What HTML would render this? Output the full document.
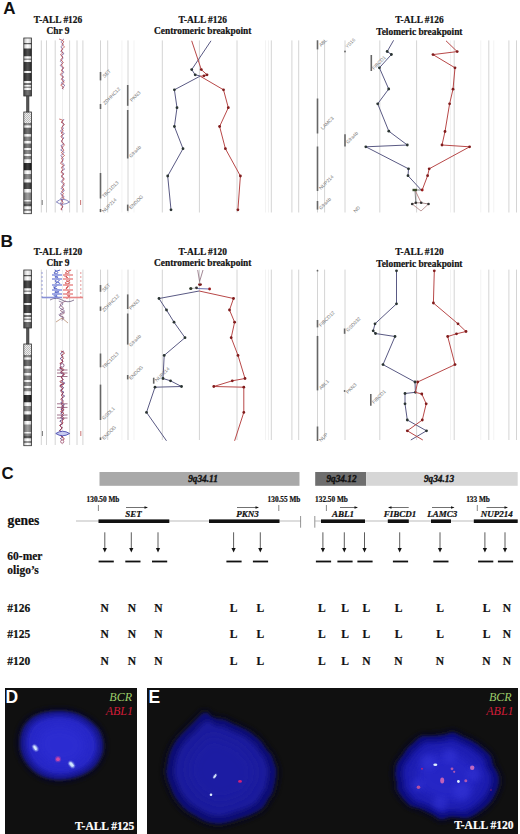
<!DOCTYPE html>
<html><head><meta charset="utf-8"><style>
html,body{margin:0;padding:0;background:#fff;}
body{width:520px;height:834px;overflow:hidden;}
svg{display:block;}
</style></head><body>
<svg width="520" height="834" viewBox="0 0 520 834">
<defs>
<pattern id="hatch" width="2" height="2" patternUnits="userSpaceOnUse"><rect width="2" height="2" fill="#eee"/><rect width="1" height="1" fill="#bbb"/><rect x="1" y="1" width="1" height="1" fill="#bbb"/></pattern>
<radialGradient id="nucD" cx="0.5" cy="0.5" r="0.5"><stop offset="0" stop-color="#2b2bcf"/><stop offset="0.75" stop-color="#2626c0"/><stop offset="0.9" stop-color="#1a1a8a"/><stop offset="1" stop-color="#10103a" stop-opacity="0"/></radialGradient>
<radialGradient id="nucE" cx="0.5" cy="0.5" r="0.5"><stop offset="0" stop-color="#2a2ac8"/><stop offset="0.75" stop-color="#2222b0"/><stop offset="0.9" stop-color="#181880"/><stop offset="1" stop-color="#10103a" stop-opacity="0"/></radialGradient>
<filter id="blur1" x="-20%" y="-20%" width="140%" height="140%"><feGaussianBlur stdDeviation="1.2"/></filter>
<filter id="blur15" x="-20%" y="-20%" width="140%" height="140%"><feGaussianBlur stdDeviation="1.8"/></filter>
<filter id="blur2" x="-20%" y="-20%" width="140%" height="140%"><feGaussianBlur stdDeviation="2.5"/></filter>
<filter id="blur3" x="-20%" y="-20%" width="140%" height="140%"><feGaussianBlur stdDeviation="3"/></filter>
<filter id="blur4" x="-30%" y="-30%" width="160%" height="160%"><feGaussianBlur stdDeviation="6"/></filter>
<linearGradient id="cyl" x1="0" x2="1" y1="0" y2="0"><stop offset="0" stop-color="#000" stop-opacity="0.25"/><stop offset="0.5" stop-color="#fff" stop-opacity="0.18"/><stop offset="1" stop-color="#000" stop-opacity="0.25"/></linearGradient>
<filter id="blur05"><feGaussianBlur stdDeviation="0.5"/></filter>
</defs>
<text x="3.3" y="14.2" font-family="Liberation Sans" font-weight="bold" font-size="17" fill="#111">A</text>
<text stroke="#111" stroke-width="0.2" x="58" y="23.3" font-family="Liberation Serif" font-weight="bold" font-size="9.4" text-anchor="middle" fill="#111">T-ALL #126</text>
<text stroke="#111" stroke-width="0.2" x="58" y="34.2" font-family="Liberation Serif" font-weight="bold" font-size="9.4" text-anchor="middle" fill="#111">Chr 9</text>
<text stroke="#111" stroke-width="0.2" x="202.7" y="23.1" font-family="Liberation Serif" font-weight="bold" font-size="9.4" text-anchor="middle" fill="#111">T-ALL #126</text>
<text stroke="#111" stroke-width="0.2" x="202.7" y="34.2" font-family="Liberation Serif" font-weight="bold" font-size="9.4" text-anchor="middle" fill="#111">Centromeric breakpoint</text>
<text stroke="#111" stroke-width="0.2" x="419.4" y="23.1" font-family="Liberation Serif" font-weight="bold" font-size="9.4" text-anchor="middle" fill="#111">T-ALL #126</text>
<text stroke="#111" stroke-width="0.2" x="419.4" y="34.6" font-family="Liberation Serif" font-weight="bold" font-size="9.4" text-anchor="middle" fill="#111">Telomeric breakpoint</text>
<line x1="41.3" y1="40.4" x2="41.3" y2="212.5" stroke="#d4d4d4" stroke-width="1"/>
<line x1="46.5" y1="40.4" x2="46.5" y2="212.5" stroke="#d4d4d4" stroke-width="1"/>
<line x1="55.2" y1="40.4" x2="55.2" y2="212.5" stroke="#d4d4d4" stroke-width="1"/>
<line x1="69.6" y1="40.4" x2="69.6" y2="212.5" stroke="#d4d4d4" stroke-width="1"/>
<line x1="77" y1="40.4" x2="77" y2="212.5" stroke="#d4d4d4" stroke-width="1"/>
<line x1="82.9" y1="40.4" x2="82.9" y2="212.5" stroke="#d4d4d4" stroke-width="1"/>
<line x1="100.5" y1="40.4" x2="100.5" y2="212.5" stroke="#d4d4d4" stroke-width="1"/>
<line x1="107.7" y1="40.4" x2="107.7" y2="212.5" stroke="#d4d4d4" stroke-width="1"/>
<line x1="128" y1="40.4" x2="128" y2="212.5" stroke="#d4d4d4" stroke-width="1"/>
<line x1="162.3" y1="40.4" x2="162.3" y2="212.5" stroke="#d4d4d4" stroke-width="1"/>
<line x1="199.4" y1="40.4" x2="199.4" y2="212.5" stroke="#d4d4d4" stroke-width="1"/>
<line x1="237" y1="40.4" x2="237" y2="212.5" stroke="#d4d4d4" stroke-width="1"/>
<line x1="271.3" y1="40.4" x2="271.3" y2="212.5" stroke="#d4d4d4" stroke-width="1"/>
<line x1="291.9" y1="40.4" x2="291.9" y2="212.5" stroke="#d4d4d4" stroke-width="1"/>
<line x1="298.7" y1="40.4" x2="298.7" y2="212.5" stroke="#d4d4d4" stroke-width="1"/>
<line x1="317.5" y1="40.4" x2="317.5" y2="212.5" stroke="#d4d4d4" stroke-width="1"/>
<line x1="324.6" y1="40.4" x2="324.6" y2="212.5" stroke="#d4d4d4" stroke-width="1"/>
<line x1="345" y1="40.4" x2="345" y2="212.5" stroke="#d4d4d4" stroke-width="1"/>
<line x1="379.8" y1="40.4" x2="379.8" y2="212.5" stroke="#d4d4d4" stroke-width="1"/>
<line x1="416.6" y1="40.4" x2="416.6" y2="212.5" stroke="#d4d4d4" stroke-width="1"/>
<line x1="454.2" y1="40.4" x2="454.2" y2="212.5" stroke="#d4d4d4" stroke-width="1"/>
<line x1="488.8" y1="40.4" x2="488.8" y2="212.5" stroke="#d4d4d4" stroke-width="1"/>
<line x1="508.9" y1="40.4" x2="508.9" y2="212.5" stroke="#d4d4d4" stroke-width="1"/>
<line x1="516.5" y1="40.4" x2="516.5" y2="212.5" stroke="#d4d4d4" stroke-width="1"/>
<line x1="121.9" y1="40.4" x2="121.9" y2="212.5" stroke="#f3f3f3" stroke-width="1"/>
<line x1="134" y1="40.4" x2="134" y2="212.5" stroke="#f3f3f3" stroke-width="1"/>
<line x1="265.5" y1="40.4" x2="265.5" y2="212.5" stroke="#f3f3f3" stroke-width="1"/>
<line x1="268.5" y1="40.4" x2="268.5" y2="212.5" stroke="#f3f3f3" stroke-width="1"/>
<line x1="450.5" y1="40.4" x2="450.5" y2="212.5" stroke="#f3f3f3" stroke-width="1"/>
<line x1="480.8" y1="40.4" x2="480.8" y2="212.5" stroke="#f3f3f3" stroke-width="1"/>
<line x1="493.8" y1="40.4" x2="493.8" y2="212.5" stroke="#f3f3f3" stroke-width="1"/>
<line x1="100.5" y1="72" x2="100.5" y2="80.4" stroke="#666" stroke-width="1.6"/>
<line x1="100.5" y1="104" x2="100.5" y2="109" stroke="#666" stroke-width="1.6"/>
<line x1="100.5" y1="173" x2="100.5" y2="198.5" stroke="#666" stroke-width="1.6"/>
<line x1="100.5" y1="209" x2="100.5" y2="212" stroke="#666" stroke-width="1.6"/>
<line x1="127.7" y1="85" x2="127.7" y2="105.8" stroke="#666" stroke-width="1.6"/>
<line x1="127.7" y1="110" x2="127.7" y2="158.5" stroke="#666" stroke-width="1.6"/>
<line x1="127.7" y1="204.6" x2="127.7" y2="210.8" stroke="#666" stroke-width="1.6"/>
<line x1="317.5" y1="40.3" x2="317.5" y2="49.4" stroke="#666" stroke-width="1.6"/>
<line x1="317.5" y1="98.5" x2="317.5" y2="133.5" stroke="#666" stroke-width="1.6"/>
<line x1="317.5" y1="146.5" x2="317.5" y2="191" stroke="#666" stroke-width="1.6"/>
<line x1="317.5" y1="201" x2="317.5" y2="209.6" stroke="#666" stroke-width="1.6"/>
<line x1="371.3" y1="55" x2="371.3" y2="71" stroke="#666" stroke-width="1.6"/>
<line x1="345" y1="134.2" x2="345" y2="146.5" stroke="#666" stroke-width="1.6"/>
<circle cx="345" cy="51.5" r="0.9" fill="#666"/>
<text x="104.5" y="78" font-family="Liberation Sans" font-size="4.8" fill="#7a7a7a" transform="rotate(-45 104.5 78)">SET</text>
<text x="105" y="105" font-family="Liberation Sans" font-size="4.8" fill="#7a7a7a" transform="rotate(-45 105 105)">ZDHHC12</text>
<text x="132" y="102" font-family="Liberation Sans" font-size="4.8" fill="#7a7a7a" transform="rotate(-45 132 102)">PKN3</text>
<text x="131" y="158" font-family="Liberation Sans" font-size="4.8" fill="#7a7a7a" transform="rotate(-45 131 158)">Gfra4b</text>
<text x="104" y="198" font-family="Liberation Sans" font-size="4.8" fill="#7a7a7a" transform="rotate(-45 104 198)">TBC1D13</text>
<text x="104" y="213" font-family="Liberation Sans" font-size="4.8" fill="#7a7a7a" transform="rotate(-45 104 213)">NUP214</text>
<text x="131" y="209.5" font-family="Liberation Sans" font-size="4.8" fill="#7a7a7a" transform="rotate(-45 131 209.5)">ENDOG</text>
<text x="321" y="47" font-family="Liberation Sans" font-size="4.8" fill="#7a7a7a" transform="rotate(-45 321 47)">ABL</text>
<text x="347.3" y="48.5" font-family="Liberation Sans" font-size="4.8" fill="#7a7a7a" transform="rotate(-45 347.3 48.5)">YS16</text>
<text x="374" y="70" font-family="Liberation Sans" font-size="4.8" fill="#7a7a7a" transform="rotate(-45 374 70)">FIBCD1</text>
<text x="322.8" y="130" font-family="Liberation Sans" font-size="4.8" fill="#7a7a7a" transform="rotate(-45 322.8 130)">LAMC3</text>
<text x="348" y="144" font-family="Liberation Sans" font-size="4.8" fill="#7a7a7a" transform="rotate(-45 348 144)">Gfra4b</text>
<text x="355.5" y="213" font-family="Liberation Sans" font-size="4.8" fill="#7a7a7a" transform="rotate(-45 355.5 213)">ND</text>
<text x="321" y="190" font-family="Liberation Sans" font-size="4.8" fill="#7a7a7a" transform="rotate(-45 321 190)">NUP214</text>
<text x="321" y="210" font-family="Liberation Sans" font-size="4.8" fill="#7a7a7a" transform="rotate(-45 321 210)">Gfra4b</text>
<rect x="23.8" y="38" width="7.800000000000001" height="5" fill="#f4f4f4"/>
<rect x="23.8" y="43" width="7.800000000000001" height="1.5" fill="#444"/>
<rect x="23.8" y="44.5" width="7.800000000000001" height="4.0" fill="#fff"/>
<rect x="23.8" y="48.5" width="7.800000000000001" height="8.0" fill="#2a2a2a"/>
<rect x="23.8" y="56.5" width="7.800000000000001" height="2.0" fill="#fff"/>
<rect x="23.8" y="58.5" width="7.800000000000001" height="1.5" fill="#888"/>
<rect x="23.8" y="60" width="7.800000000000001" height="2" fill="#fff"/>
<rect x="23.8" y="62" width="7.800000000000001" height="9" fill="#2a2a2a"/>
<rect x="23.8" y="71" width="7.800000000000001" height="2" fill="#fff"/>
<rect x="23.8" y="73" width="7.800000000000001" height="8" fill="#2a2a2a"/>
<rect x="23.8" y="81" width="7.800000000000001" height="2" fill="#fff"/>
<rect x="23.8" y="83" width="7.800000000000001" height="2" fill="#666"/>
<rect x="23.8" y="85" width="7.800000000000001" height="1.5" fill="#fff"/>
<rect x="23.8" y="86.5" width="7.800000000000001" height="1.5" fill="#888"/>
<rect x="23.8" y="88" width="7.800000000000001" height="2" fill="#fff"/>
<rect x="23.8" y="90" width="7.800000000000001" height="6" fill="#555"/>
<rect x="23.8" y="112" width="7.800000000000001" height="11" fill="url(#hatch)"/>
<rect x="23.8" y="123" width="7.800000000000001" height="2.5999999999999943" fill="#777"/>
<rect x="23.8" y="125.6" width="7.800000000000001" height="2.1000000000000085" fill="#fff"/>
<rect x="23.8" y="127.7" width="7.800000000000001" height="6.6000000000000085" fill="#555"/>
<rect x="23.8" y="134.3" width="7.800000000000001" height="2.299999999999983" fill="#fff"/>
<rect x="23.8" y="136.6" width="7.800000000000001" height="4.400000000000006" fill="#777"/>
<rect x="23.8" y="141" width="7.800000000000001" height="2.5" fill="#fff"/>
<rect x="23.8" y="143.5" width="7.800000000000001" height="4.5" fill="#666"/>
<rect x="23.8" y="148" width="7.800000000000001" height="2" fill="#fff"/>
<rect x="23.8" y="150" width="7.800000000000001" height="4" fill="#777"/>
<rect x="23.8" y="154" width="7.800000000000001" height="2" fill="#fff"/>
<rect x="23.8" y="156" width="7.800000000000001" height="3.5" fill="#777"/>
<rect x="23.8" y="159.5" width="7.800000000000001" height="3.5" fill="#fff"/>
<rect x="23.8" y="163" width="7.800000000000001" height="7.5" fill="#111"/>
<rect x="23.8" y="170.5" width="7.800000000000001" height="3.5" fill="#fff"/>
<rect x="23.8" y="174" width="7.800000000000001" height="5.5" fill="#777"/>
<rect x="23.8" y="179.5" width="7.800000000000001" height="3.0" fill="#fff"/>
<rect x="23.8" y="182.5" width="7.800000000000001" height="6.5" fill="#333"/>
<rect x="23.8" y="189" width="7.800000000000001" height="3.5" fill="#fff"/>
<rect x="23.8" y="192.5" width="7.800000000000001" height="7.5" fill="#888"/>
<rect x="23.8" y="200" width="7.800000000000001" height="1.5" fill="#fff"/>
<rect x="23.8" y="201.5" width="7.800000000000001" height="2.5" fill="#777"/>
<rect x="23.8" y="204" width="7.800000000000001" height="2.5" fill="#444"/>
<rect x="23.8" y="206.5" width="7.800000000000001" height="2.5" fill="#fff"/>
<rect x="23.8" y="209" width="7.800000000000001" height="2" fill="#888"/>
<rect x="23.8" y="211" width="7.800000000000001" height="2.6999999999999886" fill="#fff"/>
<rect x="23.8" y="38" width="7.800000000000001" height="58" fill="url(#cyl)"/>
<rect x="23.8" y="123" width="7.800000000000001" height="90.7" fill="url(#cyl)"/>
<rect x="23.8" y="38" width="7.800000000000001" height="58" fill="none" stroke="#333" stroke-width="0.8"/>
<rect x="23.8" y="112" width="7.800000000000001" height="101.7" fill="none" stroke="#333" stroke-width="0.8"/>
<rect x="26.4" y="96" width="2.6" height="16" fill="#555" stroke="#333" stroke-width="0.5"/>
<line x1="62.5" y1="40" x2="62.5" y2="212.5" stroke="#e8e8e8" stroke-width="0.8"/>
<path d="M63.89,39.00 Q59.47,42.19 62.15,43.20 Q64.83,44.21 62.30,45.40 Q59.77,46.60 61.77,48.14 Q63.78,49.68 61.54,50.46 Q59.29,51.24 62.40,52.42 Q65.52,53.60 62.91,54.36 Q60.30,55.11 62.22,56.58 Q64.13,58.05 61.63,59.75 Q59.12,61.44 61.36,62.22 Q63.61,63.00 61.31,64.29 Q59.02,65.59 61.56,66.72 Q64.10,67.85 62.74,69.02 Q61.38,70.19 63.03,71.16 Q64.68,72.14 62.77,73.38 Q60.85,74.63 62.48,75.61 Q64.11,76.59 62.41,77.80 Q60.71,79.01 63.21,79.78 Q65.72,80.55 62.75,81.86 Q59.79,83.16 62.96,84.10 Q66.12,85.04 63.63,86.65 Q61.15,88.26 63.28,89.34" fill="none" stroke="#6a4a90" stroke-width="0.7"/>
<path d="M59.03,39.00 Q65.70,41.34 63.18,42.76 Q60.67,44.18 63.25,45.52 Q65.83,46.86 62.99,48.46 Q60.15,50.05 61.89,51.39 Q63.63,52.73 61.51,53.72 Q59.39,54.72 61.69,55.88 Q63.99,57.04 61.81,58.34 Q59.63,59.64 62.07,61.07 Q64.51,62.49 62.33,63.68 Q60.14,64.87 62.52,66.40 Q64.89,67.93 62.54,69.07 Q60.19,70.21 61.92,70.99 Q63.65,71.77 61.28,73.22 Q58.90,74.68 61.73,76.02 Q64.56,77.36 62.36,78.29 Q60.15,79.21 62.85,80.94 Q65.54,82.67 62.38,83.96 Q59.22,85.25 62.05,86.23 Q64.88,87.21 62.42,88.92" fill="none" stroke="#b83838" stroke-width="0.7"/>
<path d="M64.16,119.00 Q60.50,121.59 62.83,122.94 Q65.17,124.30 63.30,125.11 Q61.43,125.93 62.82,127.51 Q64.21,129.10 61.54,130.09 Q58.87,131.07 62.29,132.29 Q65.71,133.51 62.76,134.74 Q59.80,135.96 62.49,136.86 Q65.19,137.77 62.65,139.38 Q60.10,141.00 62.69,142.49 Q65.29,143.98 62.39,144.80 Q59.49,145.61 61.91,146.95 Q64.32,148.29 61.77,149.08 Q59.21,149.86 62.31,151.08 Q65.41,152.30 62.51,153.93 Q59.60,155.56 62.09,157.23 Q64.57,158.90 62.44,160.45 Q60.30,162.00 63.06,163.69 Q65.83,165.37 63.47,166.22 Q61.11,167.07 63.58,168.04 Q66.05,169.00 62.94,170.19 Q59.83,171.38 62.34,172.43 Q64.86,173.48 62.70,174.61 Q60.55,175.75 62.80,177.08 Q65.06,178.42 62.37,180.07 Q59.69,181.73 62.73,183.41 Q65.77,185.09 62.74,186.83 Q59.71,188.57 62.75,189.48 Q65.78,190.39 62.44,192.11 Q59.11,193.82 62.25,195.14 Q65.40,196.46 62.35,197.42 Q59.30,198.38 61.79,199.71 Q64.28,201.03 61.76,201.84 Q59.24,202.66 61.50,204.40 Q63.77,206.14 62.08,207.69 Q60.39,209.24 62.35,210.14" fill="none" stroke="#6a4a90" stroke-width="0.7"/>
<path d="M59.19,119.00 Q65.14,120.59 62.36,121.38 Q59.59,122.18 62.71,123.26 Q65.83,124.34 62.99,126.07 Q60.15,127.80 62.25,129.55 Q64.35,131.30 62.12,132.13 Q59.90,132.95 61.98,133.73 Q64.05,134.52 61.96,135.67 Q59.87,136.83 61.76,137.74 Q63.65,138.64 62.15,140.26 Q60.64,141.88 63.26,143.59 Q65.87,145.30 63.07,146.42 Q60.26,147.55 62.74,148.82 Q65.21,150.09 62.61,151.44 Q60.01,152.78 63.00,154.15 Q65.99,155.52 63.16,156.78 Q60.34,158.04 62.25,159.51 Q64.16,160.98 61.54,162.03 Q58.92,163.08 61.94,164.35 Q64.97,165.62 62.67,166.38 Q60.38,167.15 61.99,168.48 Q63.59,169.81 61.70,171.17 Q59.82,172.54 62.49,173.35 Q65.17,174.16 62.43,175.37 Q59.69,176.59 62.54,177.69 Q65.38,178.79 63.39,180.28 Q61.40,181.77 63.35,182.58 Q65.30,183.39 63.05,185.11 Q60.81,186.82 62.94,188.03 Q65.08,189.23 62.80,190.30 Q60.51,191.37 62.51,192.43 Q64.50,193.50 62.59,194.84 Q60.68,196.19 63.11,197.32 Q65.55,198.44 62.76,199.22 Q59.98,200.00 62.16,201.48 Q64.35,202.97 61.86,203.94 Q59.37,204.91 61.70,205.90 Q64.03,206.89 61.84,208.07 Q59.65,209.26 62.01,210.11" fill="none" stroke="#b83838" stroke-width="0.7"/>
<path d="M56.3,202 Q62.5,196.5 69.6,202 Q62.5,206.5 56.3,202" fill="none" stroke="#6a6ab0" stroke-width="0.8"/>
<line x1="42.2" y1="200" x2="42.2" y2="205" stroke="#777" stroke-width="1"/>
<line x1="80.6" y1="200" x2="80.6" y2="205" stroke="#c77" stroke-width="1"/>
<polyline points="211,40.8 191.7,69.6 195.2,74.8 200.4,76 174.4,89.8 177,107.7 174.4,126.5 183,148.7 167.7,176 171,209.8" fill="none" stroke="#5a5a84" stroke-width="1"/>
<circle cx="191.7" cy="69.6" r="1.4" fill="#2a3432"/>
<circle cx="195.2" cy="74.8" r="1.4" fill="#2a3432"/>
<circle cx="174.4" cy="89.8" r="1.4" fill="#2a3432"/>
<circle cx="177" cy="107.7" r="1.4" fill="#2a3432"/>
<circle cx="174.4" cy="126.5" r="1.4" fill="#2a3432"/>
<circle cx="183" cy="148.7" r="1.4" fill="#2a3432"/>
<circle cx="167.7" cy="176" r="1.4" fill="#2a3432"/>
<circle cx="171" cy="209.8" r="1.4" fill="#2a3432"/>
<polyline points="191.7,40.8 201.3,69.6 207,74.8 204,75.8 200.4,76.3 223.5,89.8 228.3,107.7 219.6,126.5 225.4,148.7 240.4,176 237.9,209.8" fill="none" stroke="#b84848" stroke-width="1"/>
<circle cx="201.3" cy="69.6" r="1.4" fill="#801c1c"/>
<circle cx="207" cy="74.8" r="1.4" fill="#801c1c"/>
<circle cx="204" cy="75.8" r="1.4" fill="#801c1c"/>
<circle cx="223.5" cy="89.8" r="1.4" fill="#801c1c"/>
<circle cx="228.3" cy="107.7" r="1.4" fill="#801c1c"/>
<circle cx="219.6" cy="126.5" r="1.4" fill="#801c1c"/>
<circle cx="225.4" cy="148.7" r="1.4" fill="#801c1c"/>
<circle cx="240.4" cy="176" r="1.4" fill="#801c1c"/>
<circle cx="237.9" cy="209.8" r="1.4" fill="#801c1c"/>
<polyline points="393.6,40.3 387.2,51.5 391.4,54.5 379.4,67.8 388.7,89 377.7,103.8 388.8,131.2 407.3,145 365.8,146.8 408.5,168.8 408,175.7 421.2,190" fill="none" stroke="#5a5a84" stroke-width="1"/>
<circle cx="387.2" cy="51.5" r="1.4" fill="#2a3432"/>
<circle cx="391.4" cy="54.5" r="1.4" fill="#2a3432"/>
<circle cx="379.4" cy="67.8" r="1.4" fill="#2a3432"/>
<circle cx="388.7" cy="89" r="1.4" fill="#2a3432"/>
<circle cx="377.7" cy="103.8" r="1.4" fill="#2a3432"/>
<circle cx="388.8" cy="131.2" r="1.4" fill="#2a3432"/>
<circle cx="407.3" cy="145" r="1.4" fill="#2a3432"/>
<circle cx="365.8" cy="146.8" r="1.4" fill="#2a3432"/>
<circle cx="408.5" cy="168.8" r="1.4" fill="#2a3432"/>
<circle cx="408" cy="175.7" r="1.4" fill="#2a3432"/>
<polyline points="446,40.8 457.2,51.6 433,54.6 455,67.8 453,89.2 449.6,103.8 445,131.5 442,145 469.6,146.8 429.2,168.8 427.6,175.7 422.2,190" fill="none" stroke="#b84848" stroke-width="1"/>
<circle cx="457.2" cy="51.6" r="1.4" fill="#801c1c"/>
<circle cx="433" cy="54.6" r="1.4" fill="#801c1c"/>
<circle cx="455" cy="67.8" r="1.4" fill="#801c1c"/>
<circle cx="453" cy="89.2" r="1.4" fill="#801c1c"/>
<circle cx="449.6" cy="103.8" r="1.4" fill="#801c1c"/>
<circle cx="445" cy="131.5" r="1.4" fill="#801c1c"/>
<circle cx="442" cy="145" r="1.4" fill="#801c1c"/>
<circle cx="469.6" cy="146.8" r="1.4" fill="#801c1c"/>
<circle cx="429.2" cy="168.8" r="1.4" fill="#801c1c"/>
<circle cx="427.6" cy="175.7" r="1.4" fill="#801c1c"/>
<polyline points="412.2,204 421,211 428.5,204" fill="none" stroke="#b08080" stroke-width="0.8"/>
<polyline points="415,190 415.8,202.8" fill="none" stroke="#777" stroke-width="0.9"/>
<polyline points="415,190 421.2,202.8" fill="none" stroke="#b07070" stroke-width="0.8"/>
<polyline points="412.2,204 415.8,202.8 421.2,202.8 428.5,204" fill="none" stroke="#907070" stroke-width="0.8"/>
<line x1="413.5" y1="190" x2="422" y2="190" stroke="#555" stroke-width="0.8"/>
<rect x="412.5" y="188.8" width="4.5" height="2.4" fill="#3a4a2a"/>
<circle cx="412.2" cy="204" r="1.3" fill="#333"/>
<circle cx="415.8" cy="202.8" r="1.3" fill="#333"/>
<circle cx="421.2" cy="202.8" r="1.3" fill="#333"/>
<circle cx="428.5" cy="204" r="1.3" fill="#333"/>
<circle cx="422.2" cy="190" r="1.4" fill="#9a1a1a"/>
<text x="0.5" y="246.8" font-family="Liberation Sans" font-weight="bold" font-size="17.3" fill="#111">B</text>
<text stroke="#111" stroke-width="0.2" x="58" y="255.3" font-family="Liberation Serif" font-weight="bold" font-size="9.4" text-anchor="middle" fill="#111">T-ALL #120</text>
<text stroke="#111" stroke-width="0.2" x="58" y="266.2" font-family="Liberation Serif" font-weight="bold" font-size="9.4" text-anchor="middle" fill="#111">Chr 9</text>
<text stroke="#111" stroke-width="0.2" x="202.7" y="255.1" font-family="Liberation Serif" font-weight="bold" font-size="9.4" text-anchor="middle" fill="#111">T-ALL #120</text>
<text stroke="#111" stroke-width="0.2" x="202.7" y="266.2" font-family="Liberation Serif" font-weight="bold" font-size="9.4" text-anchor="middle" fill="#111">Centromeric breakpoint</text>
<text stroke="#111" stroke-width="0.2" x="419.4" y="255.1" font-family="Liberation Serif" font-weight="bold" font-size="9.4" text-anchor="middle" fill="#111">T-ALL #120</text>
<text stroke="#111" stroke-width="0.2" x="419.4" y="266.6" font-family="Liberation Serif" font-weight="bold" font-size="9.4" text-anchor="middle" fill="#111">Telomeric breakpoint</text>
<line x1="41.3" y1="269.6" x2="41.3" y2="445" stroke="#d4d4d4" stroke-width="1"/>
<line x1="46.5" y1="269.6" x2="46.5" y2="445" stroke="#d4d4d4" stroke-width="1"/>
<line x1="55.2" y1="269.6" x2="55.2" y2="445" stroke="#d4d4d4" stroke-width="1"/>
<line x1="69.6" y1="269.6" x2="69.6" y2="445" stroke="#d4d4d4" stroke-width="1"/>
<line x1="77" y1="269.6" x2="77" y2="445" stroke="#d4d4d4" stroke-width="1"/>
<line x1="82.9" y1="269.6" x2="82.9" y2="445" stroke="#d4d4d4" stroke-width="1"/>
<line x1="100.5" y1="269.6" x2="100.5" y2="440" stroke="#d4d4d4" stroke-width="1"/>
<line x1="107.7" y1="269.6" x2="107.7" y2="440" stroke="#d4d4d4" stroke-width="1"/>
<line x1="128" y1="269.6" x2="128" y2="440" stroke="#d4d4d4" stroke-width="1"/>
<line x1="162.3" y1="269.6" x2="162.3" y2="440" stroke="#d4d4d4" stroke-width="1"/>
<line x1="199.4" y1="269.6" x2="199.4" y2="440" stroke="#d4d4d4" stroke-width="1"/>
<line x1="237" y1="269.6" x2="237" y2="440" stroke="#d4d4d4" stroke-width="1"/>
<line x1="271.3" y1="269.6" x2="271.3" y2="440" stroke="#d4d4d4" stroke-width="1"/>
<line x1="291.9" y1="269.6" x2="291.9" y2="440" stroke="#d4d4d4" stroke-width="1"/>
<line x1="298.7" y1="269.6" x2="298.7" y2="440" stroke="#d4d4d4" stroke-width="1"/>
<line x1="317.5" y1="269.6" x2="317.5" y2="440" stroke="#d4d4d4" stroke-width="1"/>
<line x1="324.6" y1="269.6" x2="324.6" y2="440" stroke="#d4d4d4" stroke-width="1"/>
<line x1="345" y1="269.6" x2="345" y2="440" stroke="#d4d4d4" stroke-width="1"/>
<line x1="379.8" y1="269.6" x2="379.8" y2="440" stroke="#d4d4d4" stroke-width="1"/>
<line x1="416.6" y1="269.6" x2="416.6" y2="440" stroke="#d4d4d4" stroke-width="1"/>
<line x1="454.2" y1="269.6" x2="454.2" y2="440" stroke="#d4d4d4" stroke-width="1"/>
<line x1="488.8" y1="269.6" x2="488.8" y2="440" stroke="#d4d4d4" stroke-width="1"/>
<line x1="508.9" y1="269.6" x2="508.9" y2="440" stroke="#d4d4d4" stroke-width="1"/>
<line x1="516.5" y1="269.6" x2="516.5" y2="440" stroke="#d4d4d4" stroke-width="1"/>
<line x1="121.9" y1="269.6" x2="121.9" y2="440" stroke="#f3f3f3" stroke-width="1"/>
<line x1="134" y1="269.6" x2="134" y2="440" stroke="#f3f3f3" stroke-width="1"/>
<line x1="265.5" y1="269.6" x2="265.5" y2="440" stroke="#f3f3f3" stroke-width="1"/>
<line x1="268.5" y1="269.6" x2="268.5" y2="440" stroke="#f3f3f3" stroke-width="1"/>
<line x1="450.5" y1="269.6" x2="450.5" y2="440" stroke="#f3f3f3" stroke-width="1"/>
<line x1="480.8" y1="269.6" x2="480.8" y2="440" stroke="#f3f3f3" stroke-width="1"/>
<line x1="493.8" y1="269.6" x2="493.8" y2="440" stroke="#f3f3f3" stroke-width="1"/>
<line x1="100.5" y1="285" x2="100.5" y2="291.8" stroke="#666" stroke-width="1.6"/>
<line x1="100.5" y1="306.5" x2="100.5" y2="310.9" stroke="#666" stroke-width="1.6"/>
<line x1="100.5" y1="353.5" x2="100.5" y2="367.3" stroke="#666" stroke-width="1.6"/>
<line x1="100.5" y1="384.6" x2="100.5" y2="420" stroke="#666" stroke-width="1.6"/>
<line x1="100.5" y1="437.4" x2="100.5" y2="440" stroke="#666" stroke-width="1.6"/>
<line x1="127.7" y1="294.4" x2="127.7" y2="309" stroke="#666" stroke-width="1.6"/>
<line x1="127.7" y1="313.5" x2="127.7" y2="344.6" stroke="#666" stroke-width="1.6"/>
<line x1="127.7" y1="375" x2="127.7" y2="379.4" stroke="#666" stroke-width="1.6"/>
<line x1="153.7" y1="377.7" x2="153.7" y2="383.7" stroke="#666" stroke-width="1.6"/>
<line x1="317.5" y1="320" x2="317.5" y2="327.4" stroke="#666" stroke-width="1.6"/>
<line x1="317.5" y1="335.9" x2="317.5" y2="390.4" stroke="#666" stroke-width="1.6"/>
<line x1="317.5" y1="426.5" x2="317.5" y2="441" stroke="#666" stroke-width="1.6"/>
<line x1="344.6" y1="328.5" x2="344.6" y2="333.8" stroke="#666" stroke-width="1.6"/>
<line x1="370.8" y1="394" x2="370.8" y2="405.8" stroke="#666" stroke-width="1.6"/>
<circle cx="317.5" cy="270.7" r="0.9" fill="#666"/>
<circle cx="344.6" cy="391" r="0.9" fill="#666"/>
<text x="104" y="292" font-family="Liberation Sans" font-size="4.8" fill="#7a7a7a" transform="rotate(-45 104 292)">SET</text>
<text x="104" y="312" font-family="Liberation Sans" font-size="4.8" fill="#7a7a7a" transform="rotate(-45 104 312)">ZDHHC12</text>
<text x="131" y="310" font-family="Liberation Sans" font-size="4.8" fill="#7a7a7a" transform="rotate(-45 131 310)">PKN3</text>
<text x="131" y="347" font-family="Liberation Sans" font-size="4.8" fill="#7a7a7a" transform="rotate(-45 131 347)">Gfra4b</text>
<text x="104" y="369" font-family="Liberation Sans" font-size="4.8" fill="#7a7a7a" transform="rotate(-45 104 369)">TBC1D13</text>
<text x="131" y="380" font-family="Liberation Sans" font-size="4.8" fill="#7a7a7a" transform="rotate(-45 131 380)">ENDOG</text>
<text x="157" y="382" font-family="Liberation Sans" font-size="4.8" fill="#7a7a7a" transform="rotate(-45 157 382)">NUP214</text>
<text x="104" y="420" font-family="Liberation Sans" font-size="4.8" fill="#7a7a7a" transform="rotate(-45 104 420)">GSDL1</text>
<text x="104" y="440" font-family="Liberation Sans" font-size="4.8" fill="#7a7a7a" transform="rotate(-45 104 440)">ENDOG</text>
<text x="321" y="327" font-family="Liberation Sans" font-size="4.8" fill="#7a7a7a" transform="rotate(-45 321 327)">FIBCD12</text>
<text x="348" y="332" font-family="Liberation Sans" font-size="4.8" fill="#7a7a7a" transform="rotate(-45 348 332)">GSD032</text>
<text x="321" y="390" font-family="Liberation Sans" font-size="4.8" fill="#7a7a7a" transform="rotate(-45 321 390)">ABL1</text>
<text x="348" y="394" font-family="Liberation Sans" font-size="4.8" fill="#7a7a7a" transform="rotate(-45 348 394)">PKN3</text>
<text x="374" y="404" font-family="Liberation Sans" font-size="4.8" fill="#7a7a7a" transform="rotate(-45 374 404)">FIBCD1</text>
<text x="321" y="442" font-family="Liberation Sans" font-size="4.8" fill="#7a7a7a" transform="rotate(-45 321 442)">NUP</text>
<rect x="23.8" y="270" width="7.800000000000001" height="5" fill="#f4f4f4"/>
<rect x="23.8" y="275" width="7.800000000000001" height="1.5" fill="#444"/>
<rect x="23.8" y="276.5" width="7.800000000000001" height="4.0" fill="#fff"/>
<rect x="23.8" y="280.5" width="7.800000000000001" height="8.0" fill="#2a2a2a"/>
<rect x="23.8" y="288.5" width="7.800000000000001" height="2.0" fill="#fff"/>
<rect x="23.8" y="290.5" width="7.800000000000001" height="1.5" fill="#888"/>
<rect x="23.8" y="292" width="7.800000000000001" height="2" fill="#fff"/>
<rect x="23.8" y="294" width="7.800000000000001" height="9" fill="#2a2a2a"/>
<rect x="23.8" y="303" width="7.800000000000001" height="2" fill="#fff"/>
<rect x="23.8" y="305" width="7.800000000000001" height="8" fill="#2a2a2a"/>
<rect x="23.8" y="313" width="7.800000000000001" height="2" fill="#fff"/>
<rect x="23.8" y="315" width="7.800000000000001" height="2" fill="#666"/>
<rect x="23.8" y="317" width="7.800000000000001" height="1.5" fill="#fff"/>
<rect x="23.8" y="318.5" width="7.800000000000001" height="1.5" fill="#888"/>
<rect x="23.8" y="320" width="7.800000000000001" height="2" fill="#fff"/>
<rect x="23.8" y="322" width="7.800000000000001" height="6" fill="#555"/>
<rect x="23.8" y="344" width="7.800000000000001" height="11" fill="url(#hatch)"/>
<rect x="23.8" y="355" width="7.800000000000001" height="2.5999999999999943" fill="#777"/>
<rect x="23.8" y="357.6" width="7.800000000000001" height="2.1000000000000085" fill="#fff"/>
<rect x="23.8" y="359.7" width="7.800000000000001" height="6.6000000000000085" fill="#555"/>
<rect x="23.8" y="366.3" width="7.800000000000001" height="2.299999999999983" fill="#fff"/>
<rect x="23.8" y="368.6" width="7.800000000000001" height="4.400000000000006" fill="#777"/>
<rect x="23.8" y="373" width="7.800000000000001" height="2.5" fill="#fff"/>
<rect x="23.8" y="375.5" width="7.800000000000001" height="4.5" fill="#666"/>
<rect x="23.8" y="380" width="7.800000000000001" height="2" fill="#fff"/>
<rect x="23.8" y="382" width="7.800000000000001" height="4" fill="#777"/>
<rect x="23.8" y="386" width="7.800000000000001" height="2" fill="#fff"/>
<rect x="23.8" y="388" width="7.800000000000001" height="3.5" fill="#777"/>
<rect x="23.8" y="391.5" width="7.800000000000001" height="3.5" fill="#fff"/>
<rect x="23.8" y="395" width="7.800000000000001" height="7.5" fill="#111"/>
<rect x="23.8" y="402.5" width="7.800000000000001" height="3.5" fill="#fff"/>
<rect x="23.8" y="406" width="7.800000000000001" height="5.5" fill="#777"/>
<rect x="23.8" y="411.5" width="7.800000000000001" height="3.0" fill="#fff"/>
<rect x="23.8" y="414.5" width="7.800000000000001" height="6.5" fill="#333"/>
<rect x="23.8" y="421" width="7.800000000000001" height="3.5" fill="#fff"/>
<rect x="23.8" y="424.5" width="7.800000000000001" height="7.5" fill="#888"/>
<rect x="23.8" y="432" width="7.800000000000001" height="1.5" fill="#fff"/>
<rect x="23.8" y="433.5" width="7.800000000000001" height="2.5" fill="#777"/>
<rect x="23.8" y="436" width="7.800000000000001" height="2.5" fill="#444"/>
<rect x="23.8" y="438.5" width="7.800000000000001" height="2.5" fill="#fff"/>
<rect x="23.8" y="441" width="7.800000000000001" height="2" fill="#888"/>
<rect x="23.8" y="443" width="7.800000000000001" height="2.6999999999999886" fill="#fff"/>
<rect x="23.8" y="270" width="7.800000000000001" height="58" fill="url(#cyl)"/>
<rect x="23.8" y="355" width="7.800000000000001" height="90.7" fill="url(#cyl)"/>
<rect x="23.8" y="270" width="7.800000000000001" height="58" fill="none" stroke="#333" stroke-width="0.8"/>
<rect x="23.8" y="344" width="7.800000000000001" height="101.7" fill="none" stroke="#333" stroke-width="0.8"/>
<rect x="26.4" y="328" width="2.6" height="16" fill="#555" stroke="#333" stroke-width="0.5"/>
<line x1="62.5" y1="270" x2="62.5" y2="445" stroke="#e8e8e8" stroke-width="0.8"/>
<path d="M60.08,270.00 Q50.94,272.62 55.63,273.84 Q60.31,275.05 57.18,276.39 Q54.04,277.73 57.43,278.99 Q60.83,280.25 57.63,281.79 Q54.42,283.34 56.49,284.39 Q58.56,285.44 55.23,287.00 Q51.91,288.56 57.11,289.35 Q62.31,290.15 57.19,291.86 Q52.07,293.57 55.46,294.94 Q58.84,296.31 55.72,297.07 Q52.60,297.84 55.79,298.65" fill="none" stroke="#4050c0" stroke-width="0.9"/>
<path d="M54.69,270.00 Q60.03,272.43 56.33,274.02 Q52.64,275.61 56.46,277.00 Q60.28,278.39 56.59,279.81 Q52.90,281.22 57.63,282.25 Q62.37,283.27 56.83,285.02 Q51.29,286.77 55.40,288.22 Q59.50,289.68 56.56,290.66 Q53.61,291.64 57.50,292.46 Q61.40,293.28 56.33,294.43 Q51.26,295.58 56.73,296.72" fill="none" stroke="#5060c8" stroke-width="0.9"/>
<path d="M71.17,270.00 Q63.02,272.81 66.12,273.71 Q69.23,274.60 66.95,275.72 Q64.67,276.85 68.37,278.41 Q72.08,279.97 67.78,281.32 Q63.48,282.67 66.63,284.08 Q69.79,285.50 67.46,286.69 Q65.14,287.88 67.28,289.53 Q69.43,291.19 67.47,292.76 Q65.51,294.33 68.05,295.76 Q70.60,297.20 66.44,298.35" fill="none" stroke="#d04040" stroke-width="0.9"/>
<path d="M65.56,270.00 Q71.32,273.33 66.50,274.17 Q61.67,275.01 65.66,276.71 Q69.65,278.41 67.45,279.58 Q65.25,280.75 68.52,281.81 Q71.79,282.88 67.34,283.79 Q62.89,284.70 66.40,285.51 Q69.90,286.31 67.02,287.87 Q64.14,289.44 67.91,290.61 Q71.68,291.78 67.94,293.00 Q64.20,294.23 68.22,295.01 Q72.23,295.79 66.98,297.51" fill="none" stroke="#d85050" stroke-width="0.9"/>
<line x1="52" y1="275" x2="62" y2="275" stroke="#9aa4e4" stroke-width="1.8"/>
<line x1="63" y1="275" x2="73" y2="275" stroke="#eca0a0" stroke-width="1.8"/>
<line x1="52" y1="279" x2="62" y2="279" stroke="#9aa4e4" stroke-width="1.8"/>
<line x1="63" y1="279" x2="73" y2="279" stroke="#eca0a0" stroke-width="1.8"/>
<line x1="52" y1="285" x2="62" y2="285" stroke="#9aa4e4" stroke-width="1.8"/>
<line x1="63" y1="285" x2="73" y2="285" stroke="#eca0a0" stroke-width="1.8"/>
<line x1="52" y1="290" x2="62" y2="290" stroke="#9aa4e4" stroke-width="1.8"/>
<line x1="63" y1="290" x2="73" y2="290" stroke="#eca0a0" stroke-width="1.8"/>
<line x1="52" y1="294" x2="62" y2="294" stroke="#9aa4e4" stroke-width="1.8"/>
<line x1="63" y1="294" x2="73" y2="294" stroke="#eca0a0" stroke-width="1.8"/>
<path d="M50,300 Q56,296.5 62,300 T74,300" fill="none" stroke="#706080" stroke-width="0.8"/>
<line x1="42" y1="297.5" x2="62" y2="297.5" stroke="#8890d8" stroke-width="1.6"/>
<line x1="63" y1="297.5" x2="83" y2="297.5" stroke="#e88888" stroke-width="1.6"/>
<line x1="42" y1="272" x2="42" y2="298" stroke="#8088d0" stroke-width="0.8" stroke-dasharray="2,2"/>
<line x1="80.8" y1="272" x2="80.8" y2="298" stroke="#e08080" stroke-width="0.8" stroke-dasharray="2,2"/>
<path d="M65.73,301.00 Q57.31,304.44 61.44,306.36 Q65.57,308.28 62.04,309.46 Q58.52,310.64 62.66,311.81 Q66.80,312.98 62.23,314.03 Q57.65,315.09 61.73,316.25 Q65.81,317.40 61.39,318.82" fill="none" stroke="#8a5070" stroke-width="0.7"/>
<path d="M58.82,301.00 Q65.48,303.46 61.25,305.41 Q57.03,307.35 62.02,309.22 Q67.01,311.09 61.86,312.88 Q56.71,314.68 61.22,316.53 Q65.73,318.38 61.74,320.30" fill="none" stroke="#6a5080" stroke-width="0.7"/>
<polyline points="56,322 62,318 68,323" fill="none" stroke="#b08060" stroke-width="0.7"/>
<path d="M63.72,351.00 Q59.04,353.61 61.63,355.14 Q64.21,356.66 61.51,357.56 Q58.80,358.47 61.55,359.74 Q64.31,361.00 62.06,362.29 Q59.81,363.58 61.78,364.96 Q63.76,366.33 61.03,367.21 Q58.30,368.09 61.24,369.08 Q64.18,370.08 61.64,371.48 Q59.11,372.88 62.08,373.69 Q65.05,374.50 62.78,375.77 Q60.51,377.04 62.14,378.30 Q63.77,379.57 62.26,380.54 Q60.75,381.52 63.54,382.38 Q66.33,383.24 62.18,384.28 Q58.03,385.32 61.63,386.39 Q65.22,387.46 62.08,388.92 Q58.94,390.38 62.05,391.15 Q65.17,391.93 62.81,393.17 Q60.46,394.42 63.24,395.18 Q66.02,395.94 63.22,397.08 Q60.42,398.21 62.24,399.30 Q64.05,400.38 61.78,401.77 Q59.50,403.17 62.68,403.93 Q65.85,404.70 63.01,405.46 Q60.16,406.21 62.89,406.91 Q65.62,407.61 62.52,408.39 Q59.42,409.17 62.13,409.93 Q64.84,410.68 62.12,411.98 Q59.40,413.27 62.13,414.35 Q64.85,415.44 62.03,416.51 Q59.21,417.57 62.02,418.33 Q64.82,419.09 61.61,419.98 Q58.40,420.87 61.00,422.39 Q63.60,423.91 61.24,424.71 Q58.89,425.52 61.17,426.71 Q63.46,427.90 60.81,429.21 Q58.17,430.52 61.31,431.57 Q64.44,432.63 61.31,433.81 Q58.18,435.00 61.24,435.91 Q64.31,436.83 61.71,437.67 Q59.11,438.52 61.64,439.61" fill="none" stroke="#5a3a80" stroke-width="0.9"/>
<path d="M60.90,351.00 Q66.35,352.91 63.25,354.11 Q60.15,355.32 62.31,356.83 Q64.47,358.35 62.68,359.25 Q60.89,360.16 62.45,360.96 Q64.00,361.77 61.19,362.65 Q58.38,363.53 61.26,364.45 Q64.15,365.36 61.20,366.58 Q58.25,367.80 61.97,368.73 Q65.68,369.67 62.50,370.68 Q59.32,371.68 62.77,372.90 Q66.23,374.11 62.85,375.46 Q59.48,376.82 61.99,378.25 Q64.50,379.68 61.31,380.70 Q58.12,381.73 61.92,382.89 Q65.72,384.06 61.99,385.02 Q58.25,385.97 61.20,387.20 Q64.14,388.43 61.87,389.94 Q59.59,391.46 61.89,392.44 Q64.19,393.42 62.29,394.19 Q60.40,394.95 62.11,396.25 Q63.82,397.55 61.74,398.46 Q59.66,399.37 62.10,400.53 Q64.54,401.70 62.39,403.08 Q60.23,404.46 62.45,405.47 Q64.68,406.47 62.50,407.26 Q60.33,408.06 62.95,408.86 Q65.58,409.67 62.29,410.48 Q59.00,411.28 62.17,412.16 Q65.34,413.03 62.64,414.30 Q59.94,415.56 62.65,417.08 Q65.37,418.59 63.12,419.77 Q60.86,420.95 62.53,421.99 Q64.20,423.03 61.20,424.13 Q58.20,425.22 60.89,426.68 Q63.59,428.13 60.89,429.42 Q58.20,430.70 60.94,431.87 Q63.69,433.03 61.71,434.48 Q59.72,435.94 62.87,437.50 Q66.02,439.06 62.11,440.48" fill="none" stroke="#a03040" stroke-width="0.9"/>
<line x1="57" y1="370" x2="67.5" y2="370" stroke="#8a5070" stroke-width="0.8"/>
<line x1="57" y1="373" x2="67.5" y2="373" stroke="#8a5070" stroke-width="0.8"/>
<line x1="57" y1="376.5" x2="67.5" y2="376.5" stroke="#8a5070" stroke-width="0.8"/>
<line x1="57" y1="403.8" x2="67.5" y2="403.8" stroke="#8a5070" stroke-width="0.8"/>
<line x1="57" y1="407.4" x2="67.5" y2="407.4" stroke="#8a5070" stroke-width="0.8"/>
<line x1="57" y1="415" x2="67.5" y2="415" stroke="#8a5070" stroke-width="0.8"/>
<line x1="57" y1="418" x2="67.5" y2="418" stroke="#8a5070" stroke-width="0.8"/>
<circle cx="62.2" cy="365.4" r="1.8" fill="#fff" stroke="#7a4070" stroke-width="0.8"/>
<path d="M55.8,433.5 Q62.5,429 69.6,433.5 Q62.5,438 55.8,433.5" fill="#c8ccf0" stroke="#4a4ab0" stroke-width="0.9"/>
<circle cx="62.2" cy="441.6" r="1.6" fill="#fff" stroke="#a05070" stroke-width="0.8"/>
<line x1="42.4" y1="431" x2="42.4" y2="436" stroke="#777" stroke-width="1"/>
<line x1="80.8" y1="431" x2="80.8" y2="436" stroke="#c77" stroke-width="1"/>
<polyline points="" fill="none" stroke="#5a5a84" stroke-width="1"/>
<polyline points="" fill="none" stroke="#b84848" stroke-width="1"/>
<polyline points="199.2,291 159,298.5 166.5,310 174,322.2 185,337.7 164.2,355.4 163,378.5 170.5,380.8 181.5,386.5 155,387.2 146.5,412.4 166.5,440.8" fill="none" stroke="#5a5a84" stroke-width="1"/>
<circle cx="159" cy="298.5" r="1.4" fill="#2a3432"/>
<circle cx="166.5" cy="310" r="1.4" fill="#2a3432"/>
<circle cx="174" cy="322.2" r="1.4" fill="#2a3432"/>
<circle cx="185" cy="337.7" r="1.4" fill="#2a3432"/>
<circle cx="164.2" cy="355.4" r="1.4" fill="#2a3432"/>
<circle cx="163" cy="378.5" r="1.4" fill="#2a3432"/>
<circle cx="170.5" cy="380.8" r="1.4" fill="#2a3432"/>
<circle cx="181.5" cy="386.5" r="1.4" fill="#2a3432"/>
<circle cx="155" cy="387.2" r="1.4" fill="#2a3432"/>
<circle cx="146.5" cy="412.4" r="1.4" fill="#2a3432"/>
<polyline points="199.2,291 233.5,298.5 229.5,310 234.6,322.2 231.2,337.7 238,355.4 245,378.5 232.3,380.8 213.8,386.5 243.8,387.2 243.8,412.4 234.6,440.8" fill="none" stroke="#b84848" stroke-width="1"/>
<circle cx="233.5" cy="298.5" r="1.4" fill="#801c1c"/>
<circle cx="229.5" cy="310" r="1.4" fill="#801c1c"/>
<circle cx="234.6" cy="322.2" r="1.4" fill="#801c1c"/>
<circle cx="231.2" cy="337.7" r="1.4" fill="#801c1c"/>
<circle cx="238" cy="355.4" r="1.4" fill="#801c1c"/>
<circle cx="245" cy="378.5" r="1.4" fill="#801c1c"/>
<circle cx="232.3" cy="380.8" r="1.4" fill="#801c1c"/>
<circle cx="213.8" cy="386.5" r="1.4" fill="#801c1c"/>
<circle cx="243.8" cy="387.2" r="1.4" fill="#801c1c"/>
<circle cx="243.8" cy="412.4" r="1.4" fill="#801c1c"/>
<polyline points="396.5,270.8 396.5,303.8 375,323.8 373.2,330.8 375.5,333.5 395,336.5 383,364.6 415,382 415.4,392.3 405,393.5 405,403.8 407.3,420 426.5,430.8 410.8,440" fill="none" stroke="#5a5a84" stroke-width="1"/>
<circle cx="396.5" cy="270.8" r="1.4" fill="#2a3432"/>
<circle cx="396.5" cy="303.8" r="1.4" fill="#2a3432"/>
<circle cx="375" cy="323.8" r="1.4" fill="#2a3432"/>
<circle cx="373.2" cy="330.8" r="1.4" fill="#2a3432"/>
<circle cx="375.5" cy="333.5" r="1.4" fill="#2a3432"/>
<circle cx="395" cy="336.5" r="1.4" fill="#2a3432"/>
<circle cx="383" cy="364.6" r="1.4" fill="#2a3432"/>
<circle cx="415" cy="382" r="1.4" fill="#2a3432"/>
<circle cx="415.4" cy="392.3" r="1.4" fill="#2a3432"/>
<circle cx="405" cy="393.5" r="1.4" fill="#2a3432"/>
<circle cx="405" cy="403.8" r="1.4" fill="#2a3432"/>
<circle cx="407.3" cy="420" r="1.4" fill="#2a3432"/>
<circle cx="426.5" cy="430.8" r="1.4" fill="#2a3432"/>
<polyline points="434.3,270.8 433.4,303 458,323.8 466,331.5 456.5,333.8 447.7,336.5 455,364.6 417.7,382 415.4,392.3 421.8,394 426.2,403.8 422.3,420 407.3,430.8 422.8,440" fill="none" stroke="#b84848" stroke-width="1"/>
<circle cx="434.3" cy="270.8" r="1.4" fill="#801c1c"/>
<circle cx="433.4" cy="303" r="1.4" fill="#801c1c"/>
<circle cx="458" cy="323.8" r="1.4" fill="#801c1c"/>
<circle cx="466" cy="331.5" r="1.4" fill="#801c1c"/>
<circle cx="456.5" cy="333.8" r="1.4" fill="#801c1c"/>
<circle cx="447.7" cy="336.5" r="1.4" fill="#801c1c"/>
<circle cx="455" cy="364.6" r="1.4" fill="#801c1c"/>
<circle cx="417.7" cy="382" r="1.4" fill="#801c1c"/>
<circle cx="421.8" cy="394" r="1.4" fill="#801c1c"/>
<circle cx="426.2" cy="403.8" r="1.4" fill="#801c1c"/>
<circle cx="422.3" cy="420" r="1.4" fill="#801c1c"/>
<circle cx="407.3" cy="430.8" r="1.4" fill="#801c1c"/>
<polyline points="197.7,270 199.6,281.5 203,270" fill="none" stroke="#8a6a7a" stroke-width="0.8"/>
<line x1="196.5" y1="288.5" x2="209.6" y2="289" stroke="#6a70b0" stroke-width="1"/>
<line x1="190.8" y1="288.5" x2="196.5" y2="288" stroke="#aaa" stroke-width="0.8"/>
<circle cx="190.8" cy="288.5" r="1.6" fill="#2f3a2a"/>
<circle cx="196.5" cy="287.8" r="1.4" fill="#333"/>
<circle cx="209.6" cy="289" r="1.4" fill="#9a1a1a"/>
<ellipse cx="200" cy="284.6" rx="2" ry="1.3" fill="#7a1a1a"/>
<line x1="199.6" y1="281.5" x2="200" y2="284" stroke="#888" stroke-width="0.8"/>
<text x="1.6" y="478.6" font-family="Liberation Sans" font-weight="bold" font-size="16.8" fill="#111">C</text>
<rect x="99.5" y="472" width="200" height="13.8" fill="#a9a9a9"/>
<rect x="315.2" y="472" width="51" height="13.8" fill="#6e6e6e"/>
<rect x="366.2" y="472" width="151.5" height="13.8" fill="#d6d6d6"/>
<text x="203" y="482.4" font-family="Liberation Serif" font-weight="bold" font-style="italic" font-size="9.3" text-anchor="middle" fill="#111" stroke="#111" stroke-width="0.35">9q34.11</text>
<text x="341.5" y="482.4" font-family="Liberation Serif" font-weight="bold" font-style="italic" font-size="9.3" text-anchor="middle" fill="#111" stroke="#111" stroke-width="0.35">9q34.12</text>
<text x="439" y="482.4" font-family="Liberation Serif" font-weight="bold" font-style="italic" font-size="9.3" text-anchor="middle" fill="#111" stroke="#111" stroke-width="0.35">9q34.13</text>
<text stroke="#111" stroke-width="0.2" x="103" y="502" font-family="Liberation Serif" font-weight="bold" font-size="7.3" text-anchor="middle" fill="#111">130.50 Mb</text>
<line x1="98.4" y1="505" x2="98.4" y2="511" stroke="#555" stroke-width="0.7"/>
<text stroke="#111" stroke-width="0.2" x="284" y="502" font-family="Liberation Serif" font-weight="bold" font-size="7.3" text-anchor="middle" fill="#111">130.55 Mb</text>
<line x1="278.8" y1="505" x2="278.8" y2="511" stroke="#555" stroke-width="0.7"/>
<text stroke="#111" stroke-width="0.2" x="331.5" y="502" font-family="Liberation Serif" font-weight="bold" font-size="7.3" text-anchor="middle" fill="#111">132.50 Mb</text>
<line x1="326.4" y1="505" x2="326.4" y2="511" stroke="#555" stroke-width="0.7"/>
<text stroke="#111" stroke-width="0.2" x="478" y="502" font-family="Liberation Serif" font-weight="bold" font-size="7.3" text-anchor="middle" fill="#111">133 Mb</text>
<line x1="477.3" y1="505" x2="477.3" y2="511" stroke="#555" stroke-width="0.7"/>
<line x1="76" y1="521" x2="300.6" y2="521" stroke="#aaa" stroke-width="0.8"/>
<line x1="300.6" y1="516" x2="300.6" y2="527.7" stroke="#777" stroke-width="0.8"/>
<line x1="314.8" y1="516" x2="314.8" y2="527.7" stroke="#777" stroke-width="0.8"/>
<line x1="314.8" y1="521" x2="518" y2="521" stroke="#aaa" stroke-width="0.8"/>
<rect x="98.5" y="519.4" width="70.80000000000001" height="3.6" fill="#111"/>
<rect x="209" y="519.4" width="70.5" height="3.6" fill="#111"/>
<rect x="321" y="519.4" width="44" height="3.6" fill="#111"/>
<rect x="387.8" y="519.4" width="21.0" height="3.6" fill="#111"/>
<rect x="431" y="519.4" width="20" height="3.6" fill="#111"/>
<rect x="473.8" y="519.4" width="43.900000000000034" height="3.6" fill="#111"/>
<text stroke="#111" stroke-width="0.2" x="133.4" y="517" font-family="Liberation Serif" font-weight="bold" font-style="italic" font-size="9" text-anchor="middle" fill="#111">SET</text>
<line x1="126" y1="507.5" x2="147" y2="507.5" stroke="#333" stroke-width="0.7"/>
<polygon points="148,507.5 144.5,506.2 144.5,508.8" fill="#111"/>
<text stroke="#111" stroke-width="0.2" x="247.5" y="517" font-family="Liberation Serif" font-weight="bold" font-style="italic" font-size="9" text-anchor="middle" fill="#111">PKN3</text>
<line x1="237" y1="507.5" x2="258" y2="507.5" stroke="#333" stroke-width="0.7"/>
<polygon points="259,507.5 255.5,506.2 255.5,508.8" fill="#111"/>
<text stroke="#111" stroke-width="0.2" x="343" y="517" font-family="Liberation Serif" font-weight="bold" font-style="italic" font-size="9" text-anchor="middle" fill="#111">ABL1</text>
<line x1="340" y1="507.5" x2="357" y2="507.5" stroke="#333" stroke-width="0.7"/>
<polygon points="358,507.5 354.5,506.2 354.5,508.8" fill="#111"/>
<text stroke="#111" stroke-width="0.2" x="400" y="517" font-family="Liberation Serif" font-weight="bold" font-style="italic" font-size="9" text-anchor="middle" fill="#111">FIBCD1</text>
<line x1="389" y1="507.5" x2="408.7" y2="507.5" stroke="#333" stroke-width="0.7"/>
<polygon points="388,507.5 391.5,506.2 391.5,508.8" fill="#111"/>
<text stroke="#111" stroke-width="0.2" x="442.3" y="517" font-family="Liberation Serif" font-weight="bold" font-style="italic" font-size="9" text-anchor="middle" fill="#111">LAMC3</text>
<line x1="432" y1="507.5" x2="453.5" y2="507.5" stroke="#333" stroke-width="0.7"/>
<polygon points="454.5,507.5 451.0,506.2 451.0,508.8" fill="#111"/>
<text stroke="#111" stroke-width="0.2" x="496.8" y="517" font-family="Liberation Serif" font-weight="bold" font-style="italic" font-size="9" text-anchor="middle" fill="#111">NUP214</text>
<line x1="486.5" y1="507.5" x2="507" y2="507.5" stroke="#333" stroke-width="0.7"/>
<polygon points="508,507.5 504.5,506.2 504.5,508.8" fill="#111"/>
<text stroke="#111" stroke-width="0.2" x="7.6" y="524.6" font-family="Liberation Serif" font-weight="bold" font-size="13.6" fill="#111">genes</text>
<text stroke="#111" stroke-width="0.2" x="7.3" y="559.8" font-family="Liberation Serif" font-weight="bold" font-size="11.5" fill="#111">60-mer</text>
<text stroke="#111" stroke-width="0.2" x="7.3" y="573.8" font-family="Liberation Serif" font-weight="bold" font-size="11.5" fill="#111">oligo’s</text>
<line x1="104.8" y1="532.3" x2="104.8" y2="549" stroke="#333" stroke-width="0.8"/>
<polygon points="104.8,552.4 102.7,548 106.89999999999999,548" fill="#111"/>
<rect x="98.60000000000001" y="560.6" width="15.2" height="1.8" fill="#111"/>
<line x1="131.3" y1="532.3" x2="131.3" y2="549" stroke="#333" stroke-width="0.8"/>
<polygon points="131.3,552.4 129.20000000000002,548 133.4,548" fill="#111"/>
<rect x="125.30000000000001" y="560.6" width="15.2" height="1.8" fill="#111"/>
<line x1="158" y1="532.3" x2="158" y2="549" stroke="#333" stroke-width="0.8"/>
<polygon points="158,552.4 155.9,548 160.1,548" fill="#111"/>
<rect x="152.0" y="560.6" width="15.2" height="1.8" fill="#111"/>
<line x1="233.6" y1="532.3" x2="233.6" y2="549" stroke="#333" stroke-width="0.8"/>
<polygon points="233.6,552.4 231.5,548 235.7,548" fill="#111"/>
<rect x="226.4" y="560.6" width="15.2" height="1.8" fill="#111"/>
<line x1="260.3" y1="532.3" x2="260.3" y2="549" stroke="#333" stroke-width="0.8"/>
<polygon points="260.3,552.4 258.2,548 262.40000000000003,548" fill="#111"/>
<rect x="252.9" y="560.6" width="15.2" height="1.8" fill="#111"/>
<line x1="322.9" y1="532.3" x2="322.9" y2="549" stroke="#333" stroke-width="0.8"/>
<polygon points="322.9,552.4 320.79999999999995,548 325.0,548" fill="#111"/>
<rect x="315.9" y="560.6" width="15.2" height="1.8" fill="#111"/>
<line x1="344.3" y1="532.3" x2="344.3" y2="549" stroke="#333" stroke-width="0.8"/>
<polygon points="344.3,552.4 342.2,548 346.40000000000003,548" fill="#111"/>
<rect x="337.4" y="560.6" width="15.2" height="1.8" fill="#111"/>
<line x1="364.5" y1="532.3" x2="364.5" y2="549" stroke="#333" stroke-width="0.8"/>
<polygon points="364.5,552.4 362.4,548 366.6,548" fill="#111"/>
<rect x="357.4" y="560.6" width="15.2" height="1.8" fill="#111"/>
<line x1="399.7" y1="532.3" x2="399.7" y2="549" stroke="#333" stroke-width="0.8"/>
<polygon points="399.7,552.4 397.59999999999997,548 401.8,548" fill="#111"/>
<rect x="392.9" y="560.6" width="15.2" height="1.8" fill="#111"/>
<line x1="440" y1="532.3" x2="440" y2="549" stroke="#333" stroke-width="0.8"/>
<polygon points="440,552.4 437.9,548 442.1,548" fill="#111"/>
<rect x="433.29999999999995" y="560.6" width="15.2" height="1.8" fill="#111"/>
<line x1="484.9" y1="532.3" x2="484.9" y2="549" stroke="#333" stroke-width="0.8"/>
<polygon points="484.9,552.4 482.79999999999995,548 487.0,548" fill="#111"/>
<rect x="478.09999999999997" y="560.6" width="15.2" height="1.8" fill="#111"/>
<line x1="505" y1="532.3" x2="505" y2="549" stroke="#333" stroke-width="0.8"/>
<polygon points="505,552.4 502.9,548 507.1,548" fill="#111"/>
<rect x="497.9" y="560.6" width="15.2" height="1.8" fill="#111"/>
<text stroke="#111" stroke-width="0.2" x="7.3" y="611.7" font-family="Liberation Serif" font-weight="bold" font-size="11.5" fill="#111">#126</text>
<text stroke="#111" stroke-width="0.2" x="104.6" y="611.7" font-family="Liberation Serif" font-weight="bold" font-size="11.5" text-anchor="middle" fill="#111">N</text>
<text stroke="#111" stroke-width="0.2" x="132" y="611.7" font-family="Liberation Serif" font-weight="bold" font-size="11.5" text-anchor="middle" fill="#111">N</text>
<text stroke="#111" stroke-width="0.2" x="158.3" y="611.7" font-family="Liberation Serif" font-weight="bold" font-size="11.5" text-anchor="middle" fill="#111">N</text>
<text stroke="#111" stroke-width="0.2" x="233.6" y="611.7" font-family="Liberation Serif" font-weight="bold" font-size="11.5" text-anchor="middle" fill="#111">L</text>
<text stroke="#111" stroke-width="0.2" x="260.3" y="611.7" font-family="Liberation Serif" font-weight="bold" font-size="11.5" text-anchor="middle" fill="#111">L</text>
<text stroke="#111" stroke-width="0.2" x="321.9" y="611.7" font-family="Liberation Serif" font-weight="bold" font-size="11.5" text-anchor="middle" fill="#111">L</text>
<text stroke="#111" stroke-width="0.2" x="345" y="611.7" font-family="Liberation Serif" font-weight="bold" font-size="11.5" text-anchor="middle" fill="#111">L</text>
<text stroke="#111" stroke-width="0.2" x="366.3" y="611.7" font-family="Liberation Serif" font-weight="bold" font-size="11.5" text-anchor="middle" fill="#111">L</text>
<text stroke="#111" stroke-width="0.2" x="398.5" y="611.7" font-family="Liberation Serif" font-weight="bold" font-size="11.5" text-anchor="middle" fill="#111">L</text>
<text stroke="#111" stroke-width="0.2" x="440" y="611.7" font-family="Liberation Serif" font-weight="bold" font-size="11.5" text-anchor="middle" fill="#111">L</text>
<text stroke="#111" stroke-width="0.2" x="486.5" y="611.7" font-family="Liberation Serif" font-weight="bold" font-size="11.5" text-anchor="middle" fill="#111">L</text>
<text stroke="#111" stroke-width="0.2" x="507" y="611.7" font-family="Liberation Serif" font-weight="bold" font-size="11.5" text-anchor="middle" fill="#111">N</text>
<text stroke="#111" stroke-width="0.2" x="7.3" y="638" font-family="Liberation Serif" font-weight="bold" font-size="11.5" fill="#111">#125</text>
<text stroke="#111" stroke-width="0.2" x="104.6" y="638" font-family="Liberation Serif" font-weight="bold" font-size="11.5" text-anchor="middle" fill="#111">N</text>
<text stroke="#111" stroke-width="0.2" x="132" y="638" font-family="Liberation Serif" font-weight="bold" font-size="11.5" text-anchor="middle" fill="#111">N</text>
<text stroke="#111" stroke-width="0.2" x="158.3" y="638" font-family="Liberation Serif" font-weight="bold" font-size="11.5" text-anchor="middle" fill="#111">N</text>
<text stroke="#111" stroke-width="0.2" x="233.6" y="638" font-family="Liberation Serif" font-weight="bold" font-size="11.5" text-anchor="middle" fill="#111">L</text>
<text stroke="#111" stroke-width="0.2" x="260.3" y="638" font-family="Liberation Serif" font-weight="bold" font-size="11.5" text-anchor="middle" fill="#111">L</text>
<text stroke="#111" stroke-width="0.2" x="321.9" y="638" font-family="Liberation Serif" font-weight="bold" font-size="11.5" text-anchor="middle" fill="#111">L</text>
<text stroke="#111" stroke-width="0.2" x="345" y="638" font-family="Liberation Serif" font-weight="bold" font-size="11.5" text-anchor="middle" fill="#111">L</text>
<text stroke="#111" stroke-width="0.2" x="366.3" y="638" font-family="Liberation Serif" font-weight="bold" font-size="11.5" text-anchor="middle" fill="#111">L</text>
<text stroke="#111" stroke-width="0.2" x="398.5" y="638" font-family="Liberation Serif" font-weight="bold" font-size="11.5" text-anchor="middle" fill="#111">L</text>
<text stroke="#111" stroke-width="0.2" x="440" y="638" font-family="Liberation Serif" font-weight="bold" font-size="11.5" text-anchor="middle" fill="#111">L</text>
<text stroke="#111" stroke-width="0.2" x="486.5" y="638" font-family="Liberation Serif" font-weight="bold" font-size="11.5" text-anchor="middle" fill="#111">L</text>
<text stroke="#111" stroke-width="0.2" x="507" y="638" font-family="Liberation Serif" font-weight="bold" font-size="11.5" text-anchor="middle" fill="#111">N</text>
<text stroke="#111" stroke-width="0.2" x="7.3" y="664.8" font-family="Liberation Serif" font-weight="bold" font-size="11.5" fill="#111">#120</text>
<text stroke="#111" stroke-width="0.2" x="104.6" y="664.8" font-family="Liberation Serif" font-weight="bold" font-size="11.5" text-anchor="middle" fill="#111">N</text>
<text stroke="#111" stroke-width="0.2" x="132" y="664.8" font-family="Liberation Serif" font-weight="bold" font-size="11.5" text-anchor="middle" fill="#111">N</text>
<text stroke="#111" stroke-width="0.2" x="158.3" y="664.8" font-family="Liberation Serif" font-weight="bold" font-size="11.5" text-anchor="middle" fill="#111">N</text>
<text stroke="#111" stroke-width="0.2" x="233.6" y="664.8" font-family="Liberation Serif" font-weight="bold" font-size="11.5" text-anchor="middle" fill="#111">L</text>
<text stroke="#111" stroke-width="0.2" x="260.3" y="664.8" font-family="Liberation Serif" font-weight="bold" font-size="11.5" text-anchor="middle" fill="#111">L</text>
<text stroke="#111" stroke-width="0.2" x="321.9" y="664.8" font-family="Liberation Serif" font-weight="bold" font-size="11.5" text-anchor="middle" fill="#111">L</text>
<text stroke="#111" stroke-width="0.2" x="345" y="664.8" font-family="Liberation Serif" font-weight="bold" font-size="11.5" text-anchor="middle" fill="#111">L</text>
<text stroke="#111" stroke-width="0.2" x="366.3" y="664.8" font-family="Liberation Serif" font-weight="bold" font-size="11.5" text-anchor="middle" fill="#111">N</text>
<text stroke="#111" stroke-width="0.2" x="398.5" y="664.8" font-family="Liberation Serif" font-weight="bold" font-size="11.5" text-anchor="middle" fill="#111">N</text>
<text stroke="#111" stroke-width="0.2" x="440" y="664.8" font-family="Liberation Serif" font-weight="bold" font-size="11.5" text-anchor="middle" fill="#111">N</text>
<text stroke="#111" stroke-width="0.2" x="486.5" y="664.8" font-family="Liberation Serif" font-weight="bold" font-size="11.5" text-anchor="middle" fill="#111">N</text>
<text stroke="#111" stroke-width="0.2" x="507" y="664.8" font-family="Liberation Serif" font-weight="bold" font-size="11.5" text-anchor="middle" fill="#111">N</text>
<rect x="5" y="688" width="132" height="146" fill="#101010"/>
<rect x="147" y="688" width="371" height="146" fill="#101010"/>
<text x="5.6" y="703" font-family="Liberation Sans" font-weight="bold" font-size="17.5" fill="#fff">D</text>
<text x="148.6" y="703" font-family="Liberation Sans" font-weight="bold" font-size="17.5" fill="#fff">E</text>
<path d="M17.6,740.1 C18.0,736.0 19.0,731.0 20.8,727.3 C22.6,723.6 25.0,720.3 28.4,717.7 C31.7,715.0 36.2,712.6 41.2,711.2 C46.2,709.8 52.6,709.1 58.4,709.1 C64.1,709.1 70.1,709.6 75.4,711.2 C80.8,712.8 86.2,715.7 90.5,718.7 C94.8,721.8 98.7,725.5 101.2,729.4 C103.7,733.3 104.9,738.0 105.4,742.2 C105.9,746.5 105.8,750.8 104.4,755.1 C102.9,759.3 100.2,764.3 96.8,767.9 C93.4,771.5 89.0,774.3 84.0,776.5 C79.0,778.7 72.5,780.5 66.8,781.3 C61.1,782.0 55.1,782.0 49.8,780.8 C44.4,779.7 39.1,777.2 34.8,774.4 C30.5,771.5 26.8,767.4 24.1,763.7 C21.4,759.9 19.8,755.8 18.7,751.9 C17.6,748.0 17.3,744.2 17.6,740.1Z" fill="#0e0e2a" filter="url(#blur3)"/>
<path d="M20.1,740.4 C20.4,736.5 21.4,731.8 23.1,728.3 C24.8,724.8 27.0,721.7 30.2,719.2 C33.4,716.7 37.6,714.5 42.3,713.1 C47.0,711.8 53.1,711.1 58.5,711.1 C63.9,711.1 69.5,711.6 74.6,713.1 C79.6,714.6 84.8,717.3 88.8,720.2 C92.8,723.1 96.6,726.6 98.9,730.3 C101.2,734.0 102.4,738.4 102.9,742.4 C103.4,746.4 103.2,750.5 101.9,754.5 C100.6,758.5 98.0,763.2 94.8,766.6 C91.6,770.0 87.4,772.6 82.7,774.7 C78.0,776.8 71.9,778.5 66.5,779.2 C61.1,779.9 55.4,779.9 50.4,778.8 C45.4,777.7 40.3,775.4 36.3,772.7 C32.3,770.0 28.7,766.1 26.2,762.6 C23.7,759.1 22.1,755.2 21.1,751.5 C20.1,747.8 19.8,744.3 20.1,740.4Z" fill="#141488" filter="url(#blur15)"/>
<path d="M25.8,741.0 C26.1,737.7 27.0,733.7 28.4,730.6 C29.9,727.6 31.8,725.0 34.5,722.8 C37.3,720.6 40.9,718.7 44.9,717.6 C49.0,716.4 54.2,715.8 58.9,715.8 C63.5,715.8 68.4,716.3 72.7,717.6 C77.0,718.9 81.4,721.2 84.9,723.7 C88.4,726.1 91.6,729.2 93.6,732.4 C95.6,735.5 96.6,739.3 97.0,742.8 C97.5,746.2 97.3,749.7 96.2,753.2 C95.0,756.6 92.8,760.7 90.1,763.6 C87.3,766.5 83.7,768.7 79.7,770.5 C75.6,772.3 70.4,773.8 65.7,774.4 C61.1,775.0 56.2,775.0 51.9,774.1 C47.6,773.1 43.2,771.1 39.8,768.8 C36.3,766.5 33.3,763.2 31.1,760.1 C28.9,757.1 27.6,753.8 26.7,750.6 C25.8,747.4 25.5,744.4 25.8,741.0Z" fill="#2626c6" filter="url(#blur2)"/>
<path d="M36.5,742.2 C36.7,739.9 37.3,737.1 38.3,735.0 C39.3,732.9 40.6,731.0 42.5,729.5 C44.4,728.0 47.0,726.7 49.8,725.9 C52.6,725.0 56.3,724.7 59.5,724.7 C62.7,724.7 66.1,725.0 69.2,725.9 C72.2,726.8 75.2,728.4 77.7,730.1 C80.1,731.8 82.3,734.0 83.7,736.2 C85.2,738.4 85.8,741.0 86.1,743.4 C86.4,745.9 86.4,748.3 85.5,750.7 C84.7,753.1 83.2,755.9 81.3,758.0 C79.4,760.0 76.8,761.6 74.0,762.8 C71.2,764.1 67.5,765.1 64.3,765.5 C61.1,765.9 57.7,765.9 54.6,765.3 C51.6,764.6 48.6,763.2 46.2,761.6 C43.8,760.0 41.6,757.7 40.1,755.6 C38.6,753.4 37.7,751.1 37.1,748.9 C36.5,746.7 36.3,744.6 36.5,742.2Z" fill="#2e2ed6" filter="url(#blur4)" opacity="0.7"/>
<ellipse cx="35.2" cy="747.9" rx="2.7" ry="4.0" fill="#d8ecff" opacity="0.35" transform="rotate(-35 35.2 747.9)" filter="url(#blur05)"/>
<ellipse cx="35.2" cy="747.9" rx="1.5" ry="2.8" fill="#d8ecff" transform="rotate(-35 35.2 747.9)" filter="url(#blur05)"/>
<ellipse cx="71.6" cy="764.6" rx="2.8" ry="4.2" fill="#d0e8ff" opacity="0.35" transform="rotate(-40 71.6 764.6)" filter="url(#blur05)"/>
<ellipse cx="71.6" cy="764.6" rx="1.6" ry="3.0" fill="#d0e8ff" transform="rotate(-40 71.6 764.6)" filter="url(#blur05)"/>
<ellipse cx="58" cy="759.2" rx="3.0999999999999996" ry="3.0999999999999996" fill="#d048a8" opacity="0.35" transform="rotate(0 58 759.2)" filter="url(#blur05)"/>
<ellipse cx="58" cy="759.2" rx="1.9" ry="1.9" fill="#d048a8" transform="rotate(0 58 759.2)" filter="url(#blur05)"/>
<path d="M197.7,713.9 C199.4,712.2 200.3,710.8 201.9,710.2 C203.5,709.6 205.6,709.6 207.2,710.2 C208.8,710.8 209.7,712.9 211.5,713.9 C213.2,714.9 215.5,715.5 217.8,716.0 C220.1,716.5 222.8,716.3 225.2,717.1 C227.7,717.9 230.0,719.5 232.7,720.8 C235.3,722.0 238.3,723.2 241.1,724.5 C244.0,725.8 246.8,727.0 249.6,728.7 C252.4,730.5 255.6,733.0 258.1,735.1 C260.6,737.2 262.7,739.3 264.5,741.4 C266.2,743.6 267.1,745.7 268.7,747.8 C270.3,749.9 272.6,751.7 274.0,754.2 C275.4,756.6 276.3,760.0 277.2,762.6 C278.1,765.3 279.0,767.4 279.3,770.1 C279.6,772.7 279.1,775.7 278.8,778.5 C278.4,781.4 277.8,784.4 277.2,787.0 C276.6,789.7 276.1,792.1 275.1,794.4 C274.0,796.7 272.2,798.5 270.8,800.8 C269.4,803.1 268.3,806.1 266.6,808.2 C264.8,810.3 262.7,811.9 260.2,813.5 C257.7,815.1 254.7,816.5 251.7,817.8 C248.7,819.0 245.4,819.9 242.2,820.9 C239.0,822.0 236.0,823.1 232.7,824.1 C229.3,825.1 225.6,826.4 222.1,826.8 C218.5,827.1 214.8,826.9 211.5,826.2 C208.1,825.6 204.7,824.3 201.9,823.1 C199.1,821.8 197.0,820.2 194.5,818.8 C192.0,817.4 189.4,816.2 187.1,814.6 C184.8,813.0 182.7,811.2 180.7,809.3 C178.8,807.3 177.0,805.0 175.4,802.9 C173.8,800.8 172.4,798.9 171.2,796.6 C169.9,794.3 169.1,791.8 168.0,789.1 C166.9,786.5 165.6,783.5 164.8,780.7 C164.0,777.8 163.3,775.0 163.2,772.2 C163.1,769.4 163.8,766.5 164.3,763.7 C164.7,760.9 165.1,758.0 165.9,755.2 C166.7,752.4 167.8,749.4 169.1,746.7 C170.3,744.1 171.7,741.6 173.3,739.3 C174.9,737.0 176.7,735.1 178.6,733.0 C180.5,730.8 182.8,728.7 185.0,726.6 C187.1,724.5 189.2,722.4 191.3,720.2 C193.4,718.1 195.9,715.6 197.7,713.9Z" fill="#0e0e24" filter="url(#blur3)"/>
<path d="M199.0,717.0 C200.7,715.4 201.5,714.1 203.0,713.5 C204.5,712.9 206.5,712.9 208.0,713.5 C209.5,714.1 210.3,716.1 212.0,717.0 C213.7,717.9 215.8,718.5 218.0,719.0 C220.2,719.5 222.7,719.2 225.0,720.0 C227.3,720.8 229.5,722.3 232.0,723.5 C234.5,724.7 237.3,725.8 240.0,727.0 C242.7,728.2 245.3,729.3 248.0,731.0 C250.7,732.7 253.7,735.0 256.0,737.0 C258.3,739.0 260.3,741.0 262.0,743.0 C263.7,745.0 264.5,747.0 266.0,749.0 C267.5,751.0 269.7,752.7 271.0,755.0 C272.3,757.3 273.2,760.5 274.0,763.0 C274.8,765.5 275.8,767.5 276.0,770.0 C276.2,772.5 275.8,775.3 275.5,778.0 C275.2,780.7 274.6,783.5 274.0,786.0 C273.4,788.5 273.0,790.8 272.0,793.0 C271.0,795.2 269.3,796.8 268.0,799.0 C266.7,801.2 265.7,804.0 264.0,806.0 C262.3,808.0 260.3,809.5 258.0,811.0 C255.7,812.5 252.8,813.8 250.0,815.0 C247.2,816.2 244.0,817.0 241.0,818.0 C238.0,819.0 235.2,820.1 232.0,821.0 C228.8,821.9 225.3,823.2 222.0,823.5 C218.7,823.8 215.2,823.6 212.0,823.0 C208.8,822.4 205.7,821.2 203.0,820.0 C200.3,818.8 198.3,817.3 196.0,816.0 C193.7,814.7 191.2,813.5 189.0,812.0 C186.8,810.5 184.8,808.8 183.0,807.0 C181.2,805.2 179.5,803.0 178.0,801.0 C176.5,799.0 175.2,797.2 174.0,795.0 C172.8,792.8 172.0,790.5 171.0,788.0 C170.0,785.5 168.8,782.7 168.0,780.0 C167.2,777.3 166.6,774.7 166.5,772.0 C166.4,769.3 167.1,766.7 167.5,764.0 C167.9,761.3 168.2,758.7 169.0,756.0 C169.8,753.3 170.8,750.5 172.0,748.0 C173.2,745.5 174.5,743.2 176.0,741.0 C177.5,738.8 179.2,737.0 181.0,735.0 C182.8,733.0 185.0,731.0 187.0,729.0 C189.0,727.0 191.0,725.0 193.0,723.0 C195.0,721.0 197.3,718.6 199.0,717.0Z" fill="#101072" filter="url(#blur15)"/>
<path d="M202.1,724.3 C203.5,722.9 204.2,721.8 205.5,721.3 C206.8,720.8 208.5,720.8 209.8,721.3 C211.1,721.8 211.8,723.5 213.3,724.3 C214.7,725.1 216.6,725.6 218.4,726.0 C220.3,726.4 222.4,726.2 224.4,726.9 C226.4,727.5 228.3,728.9 230.5,729.9 C232.6,730.9 235.0,731.8 237.3,732.9 C239.6,734.0 241.9,734.9 244.2,736.3 C246.5,737.8 249.1,739.8 251.1,741.5 C253.1,743.2 254.8,744.9 256.3,746.6 C257.7,748.4 258.4,750.1 259.7,751.8 C261.0,753.5 262.9,755.0 264.0,757.0 C265.1,759.0 265.9,761.7 266.6,763.8 C267.3,766.0 268.1,767.7 268.3,769.9 C268.5,772.0 268.2,774.4 267.9,776.7 C267.6,779.0 267.1,781.5 266.6,783.6 C266.1,785.8 265.7,787.8 264.9,789.6 C264.0,791.5 262.6,792.9 261.4,794.8 C260.3,796.7 259.4,799.1 258.0,800.8 C256.5,802.5 254.8,803.8 252.8,805.1 C250.8,806.4 248.4,807.6 245.9,808.6 C243.5,809.6 240.8,810.3 238.2,811.1 C235.6,812.0 233.2,812.9 230.5,813.7 C227.7,814.5 224.7,815.6 221.9,815.9 C219.0,816.2 216.0,815.9 213.3,815.4 C210.5,814.9 207.8,813.9 205.5,812.9 C203.2,811.9 201.5,810.6 199.5,809.4 C197.5,808.3 195.3,807.3 193.5,806.0 C191.6,804.7 189.9,803.3 188.3,801.7 C186.7,800.1 185.3,798.2 184.0,796.5 C182.7,794.8 181.6,793.2 180.6,791.4 C179.6,789.5 178.9,787.5 178.0,785.3 C177.1,783.2 176.1,780.8 175.4,778.5 C174.8,776.2 174.2,773.9 174.1,771.6 C174.1,769.3 174.6,767.0 175.0,764.7 C175.3,762.4 175.6,760.1 176.3,757.8 C176.9,755.5 177.9,753.1 178.9,750.9 C179.9,748.8 181.0,746.8 182.3,744.9 C183.6,743.1 185.0,741.5 186.6,739.8 C188.2,738.0 190.0,736.3 191.8,734.6 C193.5,732.9 195.2,731.2 196.9,729.4 C198.6,727.7 200.6,725.6 202.1,724.3Z" fill="#1a1a9c" filter="url(#blur2)"/>
<path d="M207.8,737.8 C208.8,736.8 209.3,736.1 210.2,735.7 C211.1,735.4 212.3,735.4 213.2,735.7 C214.1,736.1 214.6,737.2 215.6,737.8 C216.6,738.3 217.9,738.7 219.2,739.0 C220.5,739.3 222.0,739.1 223.4,739.6 C224.8,740.1 226.1,741.0 227.6,741.7 C229.1,742.4 230.8,743.0 232.4,743.8 C234.0,744.5 235.6,745.2 237.2,746.2 C238.8,747.2 240.6,748.6 242.0,749.8 C243.4,751.0 244.6,752.2 245.6,753.4 C246.6,754.6 247.1,755.8 248.0,757.0 C248.9,758.2 250.2,759.2 251.0,760.6 C251.8,762.0 252.3,763.9 252.8,765.4 C253.3,766.9 253.8,768.1 254.0,769.6 C254.2,771.1 253.9,772.8 253.7,774.4 C253.5,776.0 253.2,777.7 252.8,779.2 C252.5,780.7 252.2,782.1 251.6,783.4 C251.0,784.7 250.0,785.7 249.2,787.0 C248.4,788.3 247.8,790.0 246.8,791.2 C245.8,792.4 244.6,793.3 243.2,794.2 C241.8,795.1 240.1,795.9 238.4,796.6 C236.7,797.3 234.8,797.8 233.0,798.4 C231.2,799.0 229.5,799.7 227.6,800.2 C225.7,800.8 223.6,801.5 221.6,801.7 C219.6,801.9 217.5,801.8 215.6,801.4 C213.7,801.0 211.8,800.3 210.2,799.6 C208.6,798.9 207.4,798.0 206.0,797.2 C204.6,796.4 203.1,795.7 201.8,794.8 C200.5,793.9 199.3,792.9 198.2,791.8 C197.1,790.7 196.1,789.4 195.2,788.2 C194.3,787.0 193.5,785.9 192.8,784.6 C192.1,783.3 191.6,781.9 191.0,780.4 C190.4,778.9 189.6,777.2 189.2,775.6 C188.8,774.0 188.4,772.4 188.3,770.8 C188.2,769.2 188.7,767.6 188.9,766.0 C189.2,764.4 189.4,762.8 189.8,761.2 C190.2,759.6 190.9,757.9 191.6,756.4 C192.3,754.9 193.1,753.5 194.0,752.2 C194.9,750.9 195.9,749.8 197.0,748.6 C198.1,747.4 199.4,746.2 200.6,745.0 C201.8,743.8 203.0,742.6 204.2,741.4 C205.4,740.2 206.8,738.8 207.8,737.8Z" fill="#1e1ea6" filter="url(#blur4)" opacity="0.7"/>
<path d="M435.8,733.4 C439.1,733.1 442.5,732.7 445.4,732.1 C448.3,731.5 450.1,729.3 453.4,729.9 C456.7,730.4 461.8,733.7 465.3,735.3 C468.7,736.8 471.1,737.6 473.9,739.2 C476.8,740.9 479.2,742.4 482.4,744.9 C485.5,747.5 490.5,751.1 492.7,754.3 C495.0,757.5 494.4,760.9 495.8,764.3 C497.2,767.7 500.2,771.1 501.2,774.6 C502.1,778.1 502.2,781.7 501.6,785.3 C500.9,788.9 498.9,793.3 497.4,796.4 C495.9,799.6 494.6,801.5 492.4,804.0 C490.3,806.5 487.6,809.1 484.4,811.5 C481.2,813.9 476.5,817.1 473.4,818.6 C470.4,820.1 469.5,820.4 465.9,820.5 C462.3,820.5 456.0,819.0 451.8,819.2 C447.6,819.4 443.9,822.1 440.7,821.8 C437.5,821.4 436.0,819.0 432.5,817.2 C428.9,815.3 423.2,812.3 419.4,810.7 C415.5,809.2 412.0,809.3 409.2,807.8 C406.4,806.3 404.7,804.5 402.3,801.7 C399.9,798.9 396.2,794.3 394.8,791.1 C393.4,787.9 394.4,785.3 394.0,782.6 C393.6,780.0 392.5,778.4 392.5,775.2 C392.5,772.0 392.7,766.8 394.1,763.2 C395.5,759.6 398.9,756.2 400.7,753.5 C402.5,750.9 403.1,749.4 404.9,747.2 C406.8,745.1 409.3,742.8 411.8,740.7 C414.2,738.5 417.3,735.5 419.7,734.4 C422.0,733.2 422.9,733.9 425.6,733.8 C428.3,733.6 432.6,733.7 435.8,733.4Z" fill="#0e0e26" filter="url(#blur3)"/>
<path d="M436.4,735.8 C439.5,735.5 442.7,735.1 445.4,734.6 C448.2,734.0 449.9,732.0 453.0,732.5 C456.1,733.0 460.9,736.1 464.2,737.6 C467.4,739.1 469.7,739.8 472.3,741.3 C475.0,742.8 477.3,744.3 480.3,746.7 C483.3,749.1 488.0,752.5 490.1,755.5 C492.2,758.6 491.7,761.8 493.0,765.0 C494.3,768.2 497.2,771.4 498.1,774.7 C499.0,778.0 499.0,781.3 498.4,784.8 C497.8,788.2 495.9,792.3 494.5,795.3 C493.1,798.2 491.9,800.0 489.8,802.4 C487.8,804.8 485.2,807.2 482.2,809.5 C479.2,811.8 474.8,814.8 471.9,816.2 C469.0,817.6 468.2,817.8 464.7,817.9 C461.3,818.0 455.4,816.5 451.4,816.7 C447.5,816.9 444.0,819.5 441.0,819.2 C438.0,818.9 436.6,816.6 433.2,814.8 C429.9,813.1 424.5,810.3 420.9,808.8 C417.2,807.3 414.0,807.4 411.3,806.0 C408.6,804.5 407.0,802.9 404.8,800.2 C402.5,797.6 399.0,793.2 397.7,790.2 C396.4,787.2 397.3,784.8 397.0,782.3 C396.6,779.8 395.5,778.3 395.5,775.2 C395.5,772.2 395.7,767.3 397.0,763.9 C398.3,760.5 401.6,757.3 403.3,754.8 C405.0,752.3 405.5,750.9 407.3,748.8 C409.0,746.8 411.4,744.7 413.7,742.7 C416.0,740.6 419.0,737.8 421.1,736.7 C423.3,735.6 424.2,736.3 426.8,736.2 C429.3,736.0 433.3,736.1 436.4,735.8Z" fill="#10107a" filter="url(#blur15)"/>
<path d="M437.8,741.4 C440.4,741.2 443.1,740.9 445.5,740.4 C447.9,739.9 449.3,738.1 452.0,738.6 C454.7,739.0 458.9,741.7 461.6,743.0 C464.4,744.2 466.3,744.9 468.7,746.2 C471.0,747.5 473.0,748.8 475.5,750.8 C478.0,752.8 482.1,755.8 483.9,758.4 C485.7,761.0 485.3,763.8 486.4,766.5 C487.6,769.3 490.0,772.0 490.8,774.9 C491.6,777.7 491.6,780.6 491.1,783.5 C490.6,786.5 488.9,790.1 487.7,792.6 C486.5,795.1 485.4,796.7 483.7,798.7 C481.9,800.7 479.7,802.8 477.2,804.8 C474.6,806.8 470.8,809.3 468.3,810.6 C465.8,811.8 465.1,812.0 462.1,812.1 C459.2,812.1 454.1,810.9 450.7,811.0 C447.3,811.2 444.3,813.4 441.7,813.1 C439.1,812.9 437.9,810.9 435.0,809.4 C432.1,807.9 427.5,805.5 424.4,804.2 C421.2,802.9 418.5,803.0 416.1,801.8 C413.8,800.5 412.5,799.1 410.5,796.8 C408.6,794.6 405.6,790.8 404.5,788.2 C403.4,785.7 404.1,783.5 403.8,781.4 C403.5,779.2 402.6,778.0 402.6,775.4 C402.6,772.7 402.8,768.6 403.9,765.6 C405.0,762.7 407.8,759.9 409.3,757.8 C410.7,755.6 411.2,754.4 412.7,752.6 C414.2,750.9 416.2,749.1 418.2,747.3 C420.2,745.6 422.7,743.2 424.6,742.2 C426.5,741.3 427.3,741.9 429.5,741.7 C431.7,741.6 435.1,741.7 437.8,741.4Z" fill="#1c1cae" filter="url(#blur2)"/>
<path d="M440.3,751.9 C442.1,751.7 444.0,751.5 445.7,751.1 C447.3,750.8 448.3,749.6 450.2,749.9 C452.1,750.2 455.0,752.1 456.9,753.0 C458.8,753.8 460.2,754.3 461.8,755.2 C463.4,756.1 464.8,757.0 466.6,758.4 C468.4,759.8 471.2,761.9 472.4,763.7 C473.7,765.5 473.4,767.5 474.2,769.4 C475.0,771.3 476.7,773.2 477.2,775.2 C477.8,777.2 477.8,779.2 477.5,781.3 C477.1,783.3 476.0,785.8 475.1,787.6 C474.2,789.3 473.5,790.4 472.3,791.8 C471.1,793.3 469.5,794.7 467.7,796.1 C465.9,797.5 463.3,799.3 461.5,800.1 C459.8,801.0 459.3,801.1 457.2,801.2 C455.2,801.2 451.6,800.3 449.3,800.4 C446.9,800.6 444.8,802.1 443.0,801.9 C441.2,801.7 440.4,800.3 438.3,799.3 C436.3,798.3 433.1,796.6 430.9,795.7 C428.7,794.8 426.8,794.8 425.2,794.0 C423.6,793.1 422.6,792.1 421.3,790.5 C419.9,789.0 417.8,786.3 417.0,784.5 C416.2,782.7 416.8,781.3 416.6,779.8 C416.4,778.3 415.7,777.4 415.7,775.5 C415.7,773.7 415.8,770.8 416.6,768.8 C417.4,766.7 419.4,764.8 420.4,763.3 C421.4,761.8 421.7,760.9 422.8,759.7 C423.8,758.5 425.2,757.2 426.6,756.0 C428.0,754.8 429.8,753.1 431.1,752.4 C432.4,751.8 432.9,752.2 434.5,752.1 C436.0,752.0 438.4,752.0 440.3,751.9Z" fill="#2c2cd0" filter="url(#blur4)" opacity="0.7"/>
<circle cx="428" cy="762" r="8" fill="#3434d8" opacity="0.55" filter="url(#blur3)"/>
<circle cx="462" cy="792" r="9" fill="#3434d8" opacity="0.55" filter="url(#blur3)"/>
<circle cx="440" cy="803" r="7" fill="#3434d8" opacity="0.55" filter="url(#blur3)"/>
<circle cx="474" cy="774" r="7" fill="#3434d8" opacity="0.55" filter="url(#blur3)"/>
<circle cx="450" cy="756" r="7" fill="#3434d8" opacity="0.55" filter="url(#blur3)"/>
<circle cx="418" cy="785" r="6" fill="#3434d8" opacity="0.55" filter="url(#blur3)"/>
<ellipse cx="214.9" cy="776.2" rx="1.1" ry="2.6" fill="#e0f0ff" transform="rotate(35 214.9 776.2)" filter="url(#blur05)"/>
<ellipse cx="211" cy="794.7" rx="1.3" ry="1.3" fill="#e0f0ff" transform="rotate(0 211 794.7)" filter="url(#blur05)"/>
<ellipse cx="240" cy="781.4" rx="1.9" ry="1.3" fill="#d02078" transform="rotate(0 240 781.4)" filter="url(#blur05)"/>
<ellipse cx="435.3" cy="764.7" rx="2" ry="1.2" fill="#e0f0ff" transform="rotate(0 435.3 764.7)" filter="url(#blur05)"/>
<ellipse cx="458.4" cy="781.5" rx="1.4" ry="1.4" fill="#e0f0ff" transform="rotate(0 458.4 781.5)" filter="url(#blur05)"/>
<ellipse cx="442.2" cy="780.4" rx="2" ry="3" fill="#c060b8" transform="rotate(0 442.2 780.4)" filter="url(#blur05)"/>
<ellipse cx="452" cy="768.8" rx="1.4" ry="1.4" fill="#b058b0" transform="rotate(0 452 768.8)" filter="url(#blur05)"/>
<ellipse cx="454.2" cy="771.8" rx="1.1" ry="1.1" fill="#b058b0" transform="rotate(0 454.2 771.8)" filter="url(#blur05)"/>
<ellipse cx="472.2" cy="767.7" rx="2.2" ry="2.2" fill="#c068c0" transform="rotate(0 472.2 767.7)" filter="url(#blur05)"/>
<ellipse cx="418.5" cy="787.3" rx="1.8" ry="1.8" fill="#b850a0" transform="rotate(0 418.5 787.3)" filter="url(#blur05)"/>
<ellipse cx="465.8" cy="780.8" rx="1.5" ry="1.5" fill="#b058b0" transform="rotate(0 465.8 780.8)" filter="url(#blur05)"/>
<ellipse cx="422" cy="768.8" rx="1" ry="1" fill="#b02080" transform="rotate(0 422 768.8)" filter="url(#blur05)"/>
<ellipse cx="491" cy="790" rx="0.8" ry="0.8" fill="#902070" transform="rotate(0 491 790)" filter="url(#blur05)"/>
<text x="132" y="700.9" font-family="Liberation Serif" font-style="italic" font-size="12" text-anchor="end" fill="#9ccc6a">BCR</text>
<text x="133" y="715" font-family="Liberation Serif" font-style="italic" font-size="12" text-anchor="end" fill="#d01c38">ABL1</text>
<text x="511.6" y="700.9" font-family="Liberation Serif" font-style="italic" font-size="12" text-anchor="end" fill="#9ccc6a">BCR</text>
<text x="513.6" y="715" font-family="Liberation Serif" font-style="italic" font-size="12" text-anchor="end" fill="#d01c38">ABL1</text>
<text stroke="#fff" stroke-width="0.2" x="134.3" y="829.8" font-family="Liberation Serif" font-weight="bold" font-size="11.5" text-anchor="end" fill="#fff">T-ALL #125</text>
<text stroke="#fff" stroke-width="0.2" x="513.5" y="829" font-family="Liberation Serif" font-weight="bold" font-size="11.5" text-anchor="end" fill="#fff">T-ALL #120</text>
</svg>
</body></html>
